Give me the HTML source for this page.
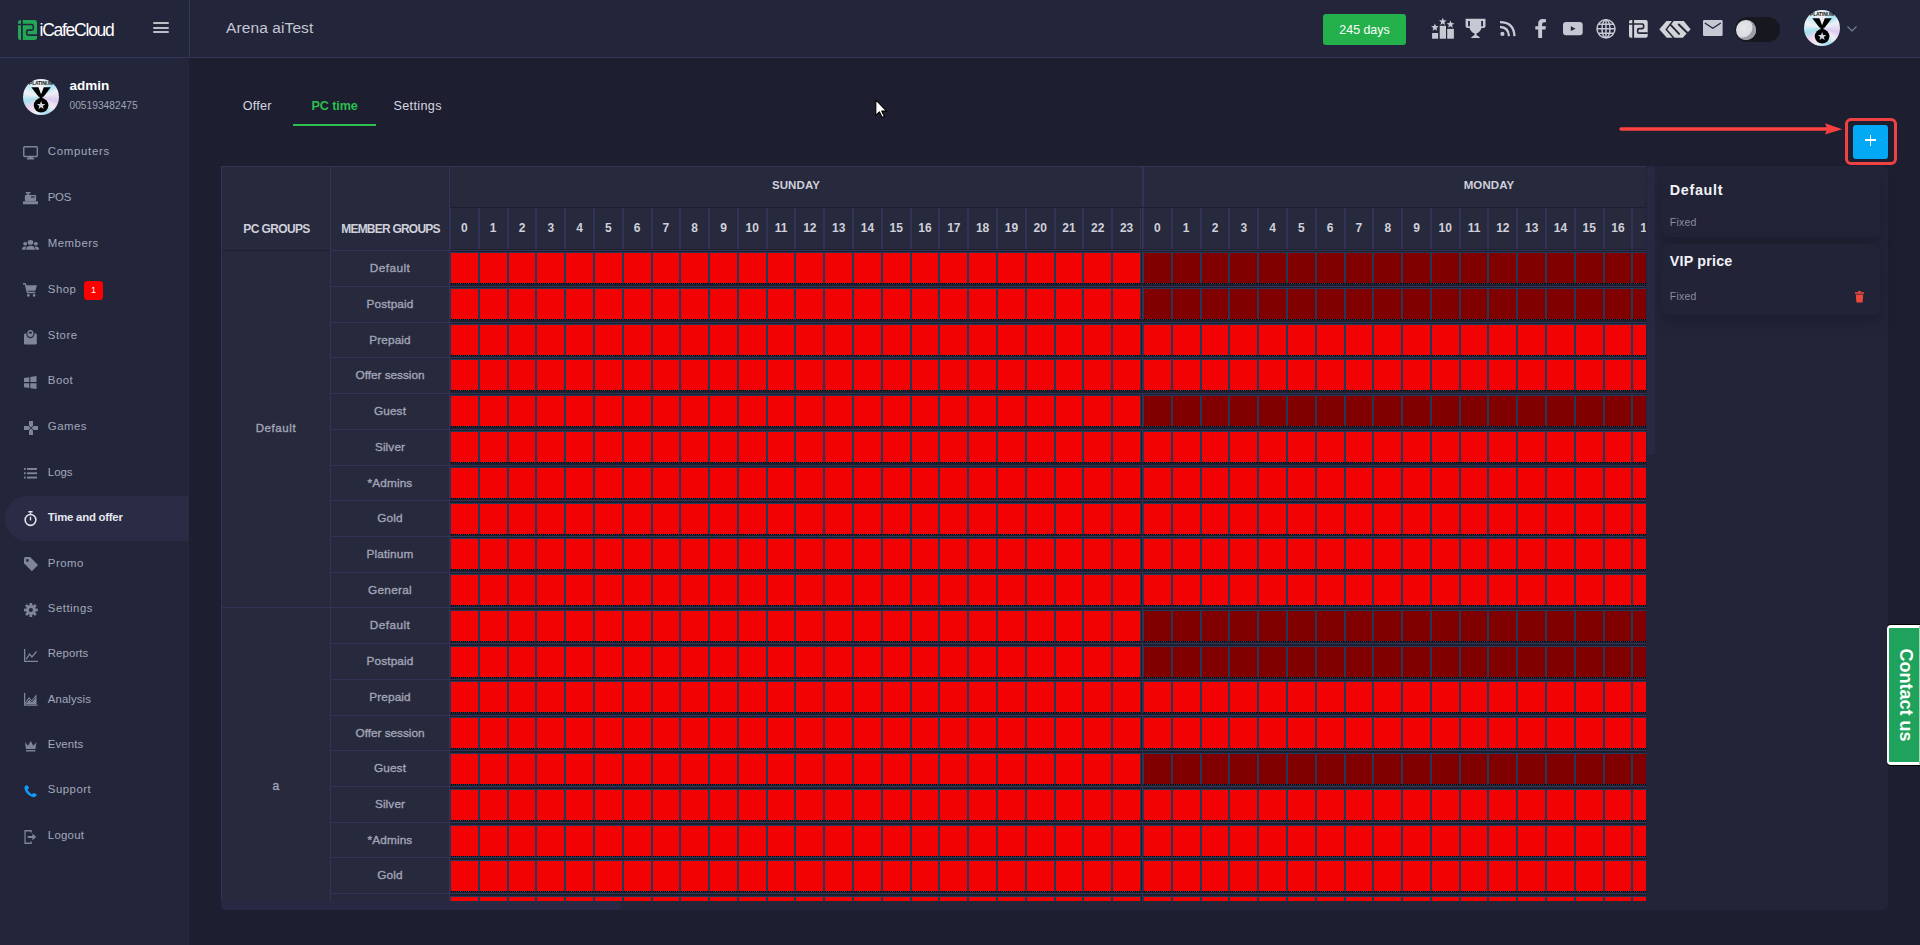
<!DOCTYPE html><html><head><meta charset="utf-8"><style>
*{margin:0;padding:0;box-sizing:border-box}
html,body{width:1920px;height:945px;overflow:hidden;background:#1d1e2f;font-family:"Liberation Sans", sans-serif}
.a{position:absolute}
.t{position:absolute;white-space:nowrap;line-height:1}
svg{position:absolute;overflow:visible}
i.r,i.d{position:absolute;display:block;height:31px;border-bottom:1px solid transparent;border-image:repeating-linear-gradient(90deg,#000 0 1px,#243858 1px 2px) 0 0 1 0/0 0 1px 0 stretch}
i.r{background:#f20202 content-box}
i.d{background:#800000 content-box}
</style></head><body>
<div class="a" style="left:0;top:0;width:189px;height:945px;background:#23263a"></div>
<div class="a" style="left:0;top:0;width:1920px;height:57px;background:#23263a"></div>
<div class="a" style="left:0;top:57px;width:1920px;height:1px;background:#33355a"></div>
<div class="a" style="left:189px;top:0;width:1px;height:57px;background:#33355a"></div>
<svg style="left:0;top:0" width="60" height="60" viewBox="0 0 60 60">
<rect x="18" y="20" width="19" height="20" rx="2.5" fill="#22a758"/>
<path d="M18 24.5H31.8Q33.3 24.5 33.3 26V28.6Q33.3 30.1 31.8 30.1H28.2Q26.7 30.1 26.7 31.6V33.6Q26.7 35.1 28.2 35.1H37" fill="none" stroke="#23263a" stroke-width="1.6"/>
<rect x="21" y="20" width="1.8" height="20" fill="#23263a"/>
</svg>
<div class="t" style="left:39.5px;top:22.25px;font-size:17.5px;color:#ffffff;font-weight:400;letter-spacing:-1.25px;">iCafeCloud</div>
<div class="a" style="left:153.3px;top:22px;width:16px;height:2px;background:#bdbdc8;border-radius:1px"></div>
<div class="a" style="left:153.3px;top:26.5px;width:16px;height:2px;background:#bdbdc8;border-radius:1px"></div>
<div class="a" style="left:153.3px;top:31px;width:16px;height:2px;background:#bdbdc8;border-radius:1px"></div>
<div class="t" style="left:226px;top:20.25px;font-size:15.5px;color:#c5c7d2;font-weight:400;letter-spacing:0.1px;">Arena aiTest</div>
<div class="a" style="left:23px;top:79px;width:36px;height:36px;border-radius:50%;background:conic-gradient(from 10deg,#eef0f6,#a6e2f0 35deg,#eef2f6 60deg,#dccaf0 95deg,#f4eef4 120deg,#9edcf0 150deg,#eaf2f6 185deg,#f0d4ee 215deg,#a4e0ee 245deg,#f2f2f6 275deg,#c8ecf4 300deg,#ecf0f6 330deg,#eef0f6)"></div>
<svg style="left:23px;top:79px" width="36" height="36" viewBox="0 0 36 36">
<text x="18" y="5.6" font-size="5" font-weight="700" text-anchor="middle" fill="#111" font-family="Liberation Sans" letter-spacing="-0.2">PLATINUM</text>
<path d="M8.3 8.3H15.4L18.1 15.2L20.8 8.3H27.8L20.6 17.8H15.6Z" fill="#000"/>
<rect x="16.6" y="16.5" width="2.9" height="3.6" fill="#000"/>
<circle cx="18.1" cy="26.3" r="7.3" fill="#000"/>
<polygon points="18.1,22.1 19.2,25.0 22.3,25.1 19.9,27.0 20.7,30.0 18.1,28.3 15.5,30.0 16.3,27.0 13.9,25.1 17.0,25.0" fill="#d4d4de"/>
</svg>
<div class="t" style="left:69.5px;top:79.35px;font-size:13.5px;color:#ffffff;font-weight:700;letter-spacing:0px;">admin</div>
<div class="t" style="left:69.5px;top:101.20px;font-size:10.2px;color:#9fa3b6;font-weight:400;letter-spacing:0.02px;">005193482475</div>
<div class="a" style="left:5px;top:496px;width:184px;height:45px;background:#2a2c46;border-radius:22px 0 0 22px"></div>
<div class="t" style="left:47.8px;top:145.70px;font-size:11.4px;color:#a3a8bc;font-weight:400;letter-spacing:0.7px;">Computers</div>
<svg style="left:22.9px;top:146.1px" width="15.10" height="13.50" viewBox="0 0 16 14" preserveAspectRatio="none"><rect x="0.8" y="0.8" width="14.4" height="10" rx="1" fill="none" stroke="#80859c" stroke-width="1.5"/><rect x="5.5" y="11" width="5" height="1.8" fill="#80859c"/><rect x="4" y="12.5" width="8" height="1.5" rx="0.7" fill="#80859c"/></svg>
<div class="t" style="left:47.8px;top:191.70px;font-size:11.4px;color:#a3a8bc;font-weight:400;letter-spacing:-0.3px;">POS</div>
<svg style="left:23px;top:191.7px" width="15.00" height="12.30" viewBox="0 0 16 12.6" preserveAspectRatio="none"><rect x="3" y="0" width="5" height="1.6" fill="#80859c"/><rect x="4.5" y="1.5" width="2" height="2" fill="#80859c"/><rect x="2" y="3.2" width="12" height="6" rx="1" fill="#80859c"/><rect x="0" y="9.6" width="16" height="3" rx="0.6" fill="#80859c"/><rect x="8.5" y="4.5" width="4" height="1.3" fill="#23263a"/></svg>
<div class="t" style="left:47.8px;top:237.70px;font-size:11.4px;color:#a3a8bc;font-weight:400;letter-spacing:0.5px;">Members</div>
<svg style="left:22.3px;top:239.8px" width="17.00" height="9.70" viewBox="0 0.4 16 10.6" preserveAspectRatio="none"><circle cx="8" cy="3" r="2.6" fill="#80859c"/><circle cx="3" cy="4.5" r="1.9" fill="#80859c"/><circle cx="13" cy="4.5" r="1.9" fill="#80859c"/><path d="M3.8 11Q4 6.6 8 6.6Q12 6.6 12.2 11Z" fill="#80859c"/><path d="M0 11Q0 7.4 3 7.4Q3.8 7.4 4.2 7.7Q3.2 9 3.2 11Z" fill="#80859c"/><path d="M16 11Q16 7.4 13 7.4Q12.2 7.4 11.8 7.7Q12.8 9 12.8 11Z" fill="#80859c"/></svg>
<div class="t" style="left:47.8px;top:283.70px;font-size:11.4px;color:#a3a8bc;font-weight:400;letter-spacing:0.5px;">Shop</div>
<svg style="left:22.9px;top:283px" width="14.00" height="13.80" viewBox="0 0 15 14" preserveAspectRatio="none"><path d="M0 0.8H2.4L4.8 9.6H13.2" fill="none" stroke="#80859c" stroke-width="1.5" stroke-linejoin="round"/><path d="M2.8 2.4H15L13.2 7.8H4.3Z" fill="#80859c"/><circle cx="5.7" cy="12.6" r="1.4" fill="#80859c"/><circle cx="11.9" cy="12.6" r="1.4" fill="#80859c"/></svg>
<div class="t" style="left:47.8px;top:329.70px;font-size:11.4px;color:#a3a8bc;font-weight:400;letter-spacing:0.5px;">Store</div>
<svg style="left:24.1px;top:329.5px" width="12.80" height="14.50" viewBox="0 0 14.5 14.5" preserveAspectRatio="none"><circle cx="7.25" cy="3.6" r="2.8" fill="none" stroke="#80859c" stroke-width="1.5"/><rect x="0" y="3.6" width="14.5" height="10.9" rx="1.2" fill="#80859c"/><path d="M3.2 3.6A4 4 0 0 0 11.3 3.6" fill="none" stroke="#23263a" stroke-width="1.3"/></svg>
<div class="t" style="left:47.8px;top:375.40px;font-size:11.4px;color:#a3a8bc;font-weight:400;letter-spacing:0.5px;">Boot</div>
<svg style="left:23.9px;top:375.9px" width="12.50" height="13.10" viewBox="0 0 13 13.4" preserveAspectRatio="none"><path d="M0 2V6.2H5.5V1.2Z" fill="#80859c"/><path d="M6.6 1V6.2H13V0Z" fill="#80859c"/><path d="M0 7.3V11.5L5.5 12.3V7.3Z" fill="#80859c"/><path d="M6.6 7.3V12.5L13 13.4V7.3Z" fill="#80859c"/></svg>
<div class="t" style="left:47.8px;top:421.00px;font-size:11.4px;color:#a3a8bc;font-weight:400;letter-spacing:0.5px;">Games</div>
<svg style="left:23.5px;top:421px" width="14.00" height="14.00" viewBox="0 0 14 14" preserveAspectRatio="none"><path d="M5 0H9V4.5L7 6.5L5 4.5Z" fill="#80859c"/><path d="M5 14H9V9.5L7 7.5L5 9.5Z" fill="#80859c"/><path d="M0 5H4.5L6.5 7L4.5 9H0Z" fill="#80859c"/><path d="M14 5H9.5L7.5 7L9.5 9H14Z" fill="#80859c"/></svg>
<div class="t" style="left:47.8px;top:466.70px;font-size:11.4px;color:#a3a8bc;font-weight:400;letter-spacing:0.0px;">Logs</div>
<svg style="left:23.7px;top:467.7px" width="13.00" height="10.50" viewBox="0 0.5 13.7 10" preserveAspectRatio="none"><rect x="0" y="0.5" width="1.8" height="1.8" fill="#80859c"/><rect x="3.2" y="0.5" width="10.5" height="1.8" fill="#80859c"/><rect x="0" y="4.6" width="1.8" height="1.8" fill="#80859c"/><rect x="3.2" y="4.6" width="10.5" height="1.8" fill="#80859c"/><rect x="0" y="8.7" width="1.8" height="1.8" fill="#80859c"/><rect x="3.2" y="8.7" width="10.5" height="1.8" fill="#80859c"/></svg>
<div class="t" style="left:47.8px;top:511.70px;font-size:11.4px;color:#e6e7ef;font-weight:700;letter-spacing:-0.25px;">Time and offer</div>
<svg style="left:24px;top:510.8px" width="13.00" height="15.20" viewBox="0 0 13.6 15.5" preserveAspectRatio="none"><circle cx="6.8" cy="9.1" r="5.6" fill="none" stroke="#e4e5ee" stroke-width="1.6"/><rect x="4.6" y="0" width="4.4" height="1.6" fill="#e4e5ee"/><rect x="6.1" y="1.5" width="1.4" height="2.2" fill="#e4e5ee"/><rect x="6.1" y="5.8" width="1.4" height="3.8" fill="#e4e5ee"/></svg>
<div class="t" style="left:47.8px;top:557.70px;font-size:11.4px;color:#a3a8bc;font-weight:400;letter-spacing:0.5px;">Promo</div>
<svg style="left:23.5px;top:556.7px" width="14.00" height="14.30" viewBox="0 0 14.2 14.2" preserveAspectRatio="none"><path d="M0 1.5V6.2L8 14.2L14.2 8L6.2 0H1.5Q0 0 0 1.5Z" fill="#80859c"/><circle cx="3.4" cy="3.4" r="1.3" fill="#23263a"/></svg>
<div class="t" style="left:47.8px;top:603.00px;font-size:11.4px;color:#a3a8bc;font-weight:400;letter-spacing:0.5px;">Settings</div>
<svg style="left:23.5px;top:603px" width="13.80" height="14.00" viewBox="-0.2 -0.2 14.4 14.4" preserveAspectRatio="none"><rect x="5.6" y="-0.2" width="2.8" height="3.4" fill="#80859c" transform="rotate(0 7 7)"/><rect x="5.6" y="-0.2" width="2.8" height="3.4" fill="#80859c" transform="rotate(45 7 7)"/><rect x="5.6" y="-0.2" width="2.8" height="3.4" fill="#80859c" transform="rotate(90 7 7)"/><rect x="5.6" y="-0.2" width="2.8" height="3.4" fill="#80859c" transform="rotate(135 7 7)"/><rect x="5.6" y="-0.2" width="2.8" height="3.4" fill="#80859c" transform="rotate(180 7 7)"/><rect x="5.6" y="-0.2" width="2.8" height="3.4" fill="#80859c" transform="rotate(225 7 7)"/><rect x="5.6" y="-0.2" width="2.8" height="3.4" fill="#80859c" transform="rotate(270 7 7)"/><rect x="5.6" y="-0.2" width="2.8" height="3.4" fill="#80859c" transform="rotate(315 7 7)"/><circle cx="7" cy="7" r="5.1" fill="#80859c"/><circle cx="7" cy="7" r="2.1" fill="#23263a"/></svg>
<div class="t" style="left:47.8px;top:648.40px;font-size:11.4px;color:#a3a8bc;font-weight:400;letter-spacing:0.1px;">Reports</div>
<svg style="left:23.5px;top:648.8px" width="14.00" height="13.00" viewBox="0 0 15 14" preserveAspectRatio="none"><path d="M0.7 0V13.3H15" fill="none" stroke="#80859c" stroke-width="1.4"/><path d="M2.5 11L6 5.5L8.5 8.5L13.5 2.5" fill="none" stroke="#80859c" stroke-width="1.4"/></svg>
<div class="t" style="left:47.8px;top:693.70px;font-size:11.4px;color:#a3a8bc;font-weight:400;letter-spacing:0.1px;">Analysis</div>
<svg style="left:23.6px;top:693.2px" width="13.60" height="12.70" viewBox="0 0 15 14" preserveAspectRatio="none"><path d="M0.7 0V13.3H15" fill="none" stroke="#80859c" stroke-width="1.4"/><path d="M1.5 12.5V10L5.5 4.5L8.5 8L13.8 1.5V12.5Z" fill="#80859c"/><path d="M2.8 10.8L5.6 6.8L8.6 10L12.4 5.2" fill="none" stroke="#23263a" stroke-width="1"/></svg>
<div class="t" style="left:47.8px;top:739.00px;font-size:11.4px;color:#a3a8bc;font-weight:400;letter-spacing:0.1px;">Events</div>
<svg style="left:24.6px;top:741.2px" width="11.40" height="10.50" viewBox="0 1 14 11.6" preserveAspectRatio="none"><path d="M0 2.5L3.8 6.2L7 1L10.2 6.2L14 2.5L12.8 9.8H1.2Z" fill="#80859c"/><rect x="1.2" y="11" width="11.6" height="1.6" fill="#80859c"/></svg>
<div class="t" style="left:47.8px;top:784.40px;font-size:11.4px;color:#a3a8bc;font-weight:400;letter-spacing:0.5px;">Support</div>
<svg style="left:23.8px;top:784.5px" width="13.00" height="12.20" viewBox="0 0 13.3 13.7" preserveAspectRatio="none"><path d="M1 1.5Q0.3 2.2 0.5 3.8Q1.5 9 6.5 12.5Q8.6 13.9 10.5 13.6Q11.5 13.4 12.2 12.6L13 11.6Q13.3 11 12.7 10.5L10.8 9.2Q10.1 8.8 9.5 9.3L8.6 10.2Q8.1 10.5 7.5 10.1Q5 8.3 3.8 5.6Q3.5 5 4 4.6L4.8 3.8Q5.3 3.3 4.9 2.6L3.6 0.7Q3.1 0.1 2.4 0.4Z" fill="#159bf5"/></svg>
<div class="t" style="left:47.8px;top:829.70px;font-size:11.4px;color:#a3a8bc;font-weight:400;letter-spacing:0.25px;">Logout</div>
<svg style="left:24.1px;top:829.5px" width="12.20" height="14.00" viewBox="0 0.45 14.5 14.8" preserveAspectRatio="none"><path d="M8.5 3V1.2H1.2V14.5H8.5V12.5" fill="none" stroke="#80859c" stroke-width="1.5"/><path d="M4.5 6.8H10V4.2L14.5 7.8L10 11.4V8.8H4.5Z" fill="#80859c"/></svg>
<div class="a" style="left:84px;top:281px;width:19px;height:19px;background:#ff0000;border-radius:3.5px"></div>
<div class="t" style="left:84.0px;width:19px;text-align:center;top:286.00px;font-size:9px;color:#ffffff;font-weight:400;letter-spacing:0px;">1</div>
<div class="t" style="left:242.8px;top:99.70px;font-size:12.6px;color:#d6d7e0;font-weight:400;letter-spacing:0.2px;">Offer</div>
<div class="t" style="left:311.5px;top:99.70px;font-size:12.6px;color:#2bbf4e;font-weight:700;letter-spacing:-0.1px;">PC time</div>
<div class="t" style="left:393.5px;top:99.70px;font-size:12.6px;color:#d6d7e0;font-weight:400;letter-spacing:0.35px;">Settings</div>
<div class="a" style="left:293px;top:124.4px;width:83px;height:2px;background:#2bbf4e"></div>
<div class="a" style="left:221px;top:166px;width:1667px;height:744px;background:#232438;border-radius:0 5px 5px 5px"></div>
<div class="a" style="left:221px;top:166px;width:1425px;height:735px;background:#27293d;overflow:hidden">
<div class="a" style="left:0px;top:0px;width:1425px;height:1px;background:#323357;"></div>
<div class="a" style="left:0px;top:0px;width:1px;height:735px;background:#323357;"></div>
<div class="a" style="left:109px;top:0px;width:1px;height:735px;background:#323357;"></div>
<div class="a" style="left:228px;top:0px;width:1px;height:735px;background:#323357;"></div>
<div class="a" style="left:229px;top:42px;width:1px;height:42px;background:#323357;"></div>
<div class="a" style="left:921px;top:0px;width:2px;height:42px;background:#323357;"></div>
<div class="a" style="left:921px;top:42px;width:1px;height:42px;background:#323357;"></div>
<div class="a" style="left:229px;top:41px;width:1196px;height:1px;background:#1e1f2e;"></div>
<div class="a" style="left:229px;top:83px;width:1196px;height:1px;background:#1e1f2e;"></div>
<div class="a" style="left:229px;top:42px;width:1px;height:41px;background:#323357;"></div>
<div class="a" style="left:257px;top:42px;width:1px;height:41px;background:#323357;"></div>
<div class="a" style="left:258px;top:42px;width:1px;height:41px;background:#323357;"></div>
<div class="a" style="left:286px;top:42px;width:1px;height:41px;background:#323357;"></div>
<div class="a" style="left:287px;top:42px;width:1px;height:41px;background:#323357;"></div>
<div class="a" style="left:314px;top:42px;width:1px;height:41px;background:#323357;"></div>
<div class="a" style="left:315px;top:42px;width:1px;height:41px;background:#323357;"></div>
<div class="a" style="left:343px;top:42px;width:1px;height:41px;background:#323357;"></div>
<div class="a" style="left:344px;top:42px;width:1px;height:41px;background:#323357;"></div>
<div class="a" style="left:372px;top:42px;width:1px;height:41px;background:#323357;"></div>
<div class="a" style="left:373px;top:42px;width:1px;height:41px;background:#323357;"></div>
<div class="a" style="left:401px;top:42px;width:1px;height:41px;background:#323357;"></div>
<div class="a" style="left:402px;top:42px;width:1px;height:41px;background:#323357;"></div>
<div class="a" style="left:430px;top:42px;width:1px;height:41px;background:#323357;"></div>
<div class="a" style="left:431px;top:42px;width:1px;height:41px;background:#323357;"></div>
<div class="a" style="left:458px;top:42px;width:1px;height:41px;background:#323357;"></div>
<div class="a" style="left:459px;top:42px;width:1px;height:41px;background:#323357;"></div>
<div class="a" style="left:487px;top:42px;width:1px;height:41px;background:#323357;"></div>
<div class="a" style="left:488px;top:42px;width:1px;height:41px;background:#323357;"></div>
<div class="a" style="left:516px;top:42px;width:1px;height:41px;background:#323357;"></div>
<div class="a" style="left:517px;top:42px;width:1px;height:41px;background:#323357;"></div>
<div class="a" style="left:545px;top:42px;width:1px;height:41px;background:#323357;"></div>
<div class="a" style="left:546px;top:42px;width:1px;height:41px;background:#323357;"></div>
<div class="a" style="left:573px;top:42px;width:1px;height:41px;background:#323357;"></div>
<div class="a" style="left:574px;top:42px;width:1px;height:41px;background:#323357;"></div>
<div class="a" style="left:602px;top:42px;width:1px;height:41px;background:#323357;"></div>
<div class="a" style="left:603px;top:42px;width:1px;height:41px;background:#323357;"></div>
<div class="a" style="left:631px;top:42px;width:1px;height:41px;background:#323357;"></div>
<div class="a" style="left:632px;top:42px;width:1px;height:41px;background:#323357;"></div>
<div class="a" style="left:660px;top:42px;width:1px;height:41px;background:#323357;"></div>
<div class="a" style="left:661px;top:42px;width:1px;height:41px;background:#323357;"></div>
<div class="a" style="left:689px;top:42px;width:1px;height:41px;background:#323357;"></div>
<div class="a" style="left:690px;top:42px;width:1px;height:41px;background:#323357;"></div>
<div class="a" style="left:717px;top:42px;width:1px;height:41px;background:#323357;"></div>
<div class="a" style="left:718px;top:42px;width:1px;height:41px;background:#323357;"></div>
<div class="a" style="left:746px;top:42px;width:1px;height:41px;background:#323357;"></div>
<div class="a" style="left:747px;top:42px;width:1px;height:41px;background:#323357;"></div>
<div class="a" style="left:775px;top:42px;width:1px;height:41px;background:#323357;"></div>
<div class="a" style="left:776px;top:42px;width:1px;height:41px;background:#323357;"></div>
<div class="a" style="left:804px;top:42px;width:1px;height:41px;background:#323357;"></div>
<div class="a" style="left:805px;top:42px;width:1px;height:41px;background:#323357;"></div>
<div class="a" style="left:833px;top:42px;width:1px;height:41px;background:#323357;"></div>
<div class="a" style="left:834px;top:42px;width:1px;height:41px;background:#323357;"></div>
<div class="a" style="left:861px;top:42px;width:1px;height:41px;background:#323357;"></div>
<div class="a" style="left:862px;top:42px;width:1px;height:41px;background:#323357;"></div>
<div class="a" style="left:890px;top:42px;width:1px;height:41px;background:#323357;"></div>
<div class="a" style="left:891px;top:42px;width:1px;height:41px;background:#323357;"></div>
<div class="a" style="left:919px;top:42px;width:1px;height:41px;background:#323357;"></div>
<div class="a" style="left:922px;top:42px;width:1px;height:41px;background:#323357;"></div>
<div class="a" style="left:950px;top:42px;width:1px;height:41px;background:#323357;"></div>
<div class="a" style="left:951px;top:42px;width:1px;height:41px;background:#323357;"></div>
<div class="a" style="left:979px;top:42px;width:1px;height:41px;background:#323357;"></div>
<div class="a" style="left:980px;top:42px;width:1px;height:41px;background:#323357;"></div>
<div class="a" style="left:1007px;top:42px;width:1px;height:41px;background:#323357;"></div>
<div class="a" style="left:1008px;top:42px;width:1px;height:41px;background:#323357;"></div>
<div class="a" style="left:1036px;top:42px;width:1px;height:41px;background:#323357;"></div>
<div class="a" style="left:1037px;top:42px;width:1px;height:41px;background:#323357;"></div>
<div class="a" style="left:1065px;top:42px;width:1px;height:41px;background:#323357;"></div>
<div class="a" style="left:1066px;top:42px;width:1px;height:41px;background:#323357;"></div>
<div class="a" style="left:1094px;top:42px;width:1px;height:41px;background:#323357;"></div>
<div class="a" style="left:1095px;top:42px;width:1px;height:41px;background:#323357;"></div>
<div class="a" style="left:1123px;top:42px;width:1px;height:41px;background:#323357;"></div>
<div class="a" style="left:1124px;top:42px;width:1px;height:41px;background:#323357;"></div>
<div class="a" style="left:1151px;top:42px;width:1px;height:41px;background:#323357;"></div>
<div class="a" style="left:1152px;top:42px;width:1px;height:41px;background:#323357;"></div>
<div class="a" style="left:1180px;top:42px;width:1px;height:41px;background:#323357;"></div>
<div class="a" style="left:1181px;top:42px;width:1px;height:41px;background:#323357;"></div>
<div class="a" style="left:1209px;top:42px;width:1px;height:41px;background:#323357;"></div>
<div class="a" style="left:1210px;top:42px;width:1px;height:41px;background:#323357;"></div>
<div class="a" style="left:1238px;top:42px;width:1px;height:41px;background:#323357;"></div>
<div class="a" style="left:1239px;top:42px;width:1px;height:41px;background:#323357;"></div>
<div class="a" style="left:1266px;top:42px;width:1px;height:41px;background:#323357;"></div>
<div class="a" style="left:1267px;top:42px;width:1px;height:41px;background:#323357;"></div>
<div class="a" style="left:1295px;top:42px;width:1px;height:41px;background:#323357;"></div>
<div class="a" style="left:1296px;top:42px;width:1px;height:41px;background:#323357;"></div>
<div class="a" style="left:1324px;top:42px;width:1px;height:41px;background:#323357;"></div>
<div class="a" style="left:1325px;top:42px;width:1px;height:41px;background:#323357;"></div>
<div class="a" style="left:1353px;top:42px;width:1px;height:41px;background:#323357;"></div>
<div class="a" style="left:1354px;top:42px;width:1px;height:41px;background:#323357;"></div>
<div class="a" style="left:1382px;top:42px;width:1px;height:41px;background:#323357;"></div>
<div class="a" style="left:1383px;top:42px;width:1px;height:41px;background:#323357;"></div>
<div class="a" style="left:1410px;top:42px;width:1px;height:41px;background:#323357;"></div>
<div class="a" style="left:1411px;top:42px;width:1px;height:41px;background:#323357;"></div>
<div class="a" style="left:1px;top:84px;width:108px;height:1px;background:#1e1f2e;"></div>
<div class="a" style="left:110px;top:84px;width:118px;height:1px;background:#323357;"></div>
<div class="a" style="left:229px;top:84px;width:1196px;height:1px;background:#323357;"></div>
<div class="a" style="left:229px;top:85px;width:1196px;height:1px;background:#1e1f2e;"></div>
<div class="a" style="left:229px;top:86px;width:691px;height:31px;background:#243858;"></div>
<div class="a" style="left:922px;top:86px;width:503px;height:31px;background:#243858;"></div>
<div class="a" style="left:920px;top:85px;width:1px;height:35px;background:#1e1f2e;"></div>
<div class="a" style="left:921px;top:85px;width:1px;height:35px;background:#323357;"></div>
<div class="a" style="left:229px;top:117px;width:1196px;height:1px;background:#222436;"></div>
<div class="a" style="left:229px;top:118px;width:1196px;height:2px;background:#1e1f2e;"></div>
<i class="r" style="left:230px;top:87px;width:27px"></i>
<i class="r" style="left:259px;top:87px;width:27px"></i>
<i class="r" style="left:288px;top:87px;width:26px"></i>
<i class="r" style="left:316px;top:87px;width:27px"></i>
<i class="r" style="left:345px;top:87px;width:27px"></i>
<i class="r" style="left:374px;top:87px;width:27px"></i>
<i class="r" style="left:403px;top:87px;width:27px"></i>
<i class="r" style="left:432px;top:87px;width:26px"></i>
<i class="r" style="left:460px;top:87px;width:27px"></i>
<i class="r" style="left:489px;top:87px;width:27px"></i>
<i class="r" style="left:518px;top:87px;width:27px"></i>
<i class="r" style="left:547px;top:87px;width:26px"></i>
<i class="r" style="left:575px;top:87px;width:27px"></i>
<i class="r" style="left:604px;top:87px;width:27px"></i>
<i class="r" style="left:633px;top:87px;width:27px"></i>
<i class="r" style="left:662px;top:87px;width:27px"></i>
<i class="r" style="left:691px;top:87px;width:26px"></i>
<i class="r" style="left:719px;top:87px;width:27px"></i>
<i class="r" style="left:748px;top:87px;width:27px"></i>
<i class="r" style="left:777px;top:87px;width:27px"></i>
<i class="r" style="left:806px;top:87px;width:27px"></i>
<i class="r" style="left:835px;top:87px;width:26px"></i>
<i class="r" style="left:863px;top:87px;width:27px"></i>
<i class="r" style="left:892px;top:87px;width:27px"></i>
<i class="d" style="left:923px;top:87px;width:27px"></i>
<i class="d" style="left:952px;top:87px;width:27px"></i>
<i class="d" style="left:981px;top:87px;width:26px"></i>
<i class="d" style="left:1009px;top:87px;width:27px"></i>
<i class="d" style="left:1038px;top:87px;width:27px"></i>
<i class="d" style="left:1067px;top:87px;width:27px"></i>
<i class="d" style="left:1096px;top:87px;width:27px"></i>
<i class="d" style="left:1125px;top:87px;width:26px"></i>
<i class="d" style="left:1153px;top:87px;width:27px"></i>
<i class="d" style="left:1182px;top:87px;width:27px"></i>
<i class="d" style="left:1211px;top:87px;width:27px"></i>
<i class="d" style="left:1240px;top:87px;width:26px"></i>
<i class="d" style="left:1268px;top:87px;width:27px"></i>
<i class="d" style="left:1297px;top:87px;width:27px"></i>
<i class="d" style="left:1326px;top:87px;width:27px"></i>
<i class="d" style="left:1355px;top:87px;width:27px"></i>
<i class="d" style="left:1384px;top:87px;width:26px"></i>
<i class="d" style="left:1412px;top:87px;width:13px"></i>
<div class="t" style="left:110px;width:118px;text-align:center;top:97.00px;font-size:11.8px;color:#a2a4b6;font-weight:400;-webkit-text-stroke:0.35px #a2a4b6;letter-spacing:0.45px">Default</div>
<div class="a" style="left:110px;top:120px;width:118px;height:1px;background:#323357;"></div>
<div class="a" style="left:229px;top:120px;width:1196px;height:1px;background:#323357;"></div>
<div class="a" style="left:229px;top:121px;width:1196px;height:1px;background:#1e1f2e;"></div>
<div class="a" style="left:229px;top:122px;width:691px;height:31px;background:#243858;"></div>
<div class="a" style="left:922px;top:122px;width:503px;height:31px;background:#243858;"></div>
<div class="a" style="left:920px;top:121px;width:1px;height:35px;background:#1e1f2e;"></div>
<div class="a" style="left:921px;top:121px;width:1px;height:35px;background:#323357;"></div>
<div class="a" style="left:229px;top:153px;width:1196px;height:1px;background:#222436;"></div>
<div class="a" style="left:229px;top:154px;width:1196px;height:2px;background:#1e1f2e;"></div>
<i class="r" style="left:230px;top:123px;width:27px"></i>
<i class="r" style="left:259px;top:123px;width:27px"></i>
<i class="r" style="left:288px;top:123px;width:26px"></i>
<i class="r" style="left:316px;top:123px;width:27px"></i>
<i class="r" style="left:345px;top:123px;width:27px"></i>
<i class="r" style="left:374px;top:123px;width:27px"></i>
<i class="r" style="left:403px;top:123px;width:27px"></i>
<i class="r" style="left:432px;top:123px;width:26px"></i>
<i class="r" style="left:460px;top:123px;width:27px"></i>
<i class="r" style="left:489px;top:123px;width:27px"></i>
<i class="r" style="left:518px;top:123px;width:27px"></i>
<i class="r" style="left:547px;top:123px;width:26px"></i>
<i class="r" style="left:575px;top:123px;width:27px"></i>
<i class="r" style="left:604px;top:123px;width:27px"></i>
<i class="r" style="left:633px;top:123px;width:27px"></i>
<i class="r" style="left:662px;top:123px;width:27px"></i>
<i class="r" style="left:691px;top:123px;width:26px"></i>
<i class="r" style="left:719px;top:123px;width:27px"></i>
<i class="r" style="left:748px;top:123px;width:27px"></i>
<i class="r" style="left:777px;top:123px;width:27px"></i>
<i class="r" style="left:806px;top:123px;width:27px"></i>
<i class="r" style="left:835px;top:123px;width:26px"></i>
<i class="r" style="left:863px;top:123px;width:27px"></i>
<i class="r" style="left:892px;top:123px;width:27px"></i>
<i class="d" style="left:923px;top:123px;width:27px"></i>
<i class="d" style="left:952px;top:123px;width:27px"></i>
<i class="d" style="left:981px;top:123px;width:26px"></i>
<i class="d" style="left:1009px;top:123px;width:27px"></i>
<i class="d" style="left:1038px;top:123px;width:27px"></i>
<i class="d" style="left:1067px;top:123px;width:27px"></i>
<i class="d" style="left:1096px;top:123px;width:27px"></i>
<i class="d" style="left:1125px;top:123px;width:26px"></i>
<i class="d" style="left:1153px;top:123px;width:27px"></i>
<i class="d" style="left:1182px;top:123px;width:27px"></i>
<i class="d" style="left:1211px;top:123px;width:27px"></i>
<i class="d" style="left:1240px;top:123px;width:26px"></i>
<i class="d" style="left:1268px;top:123px;width:27px"></i>
<i class="d" style="left:1297px;top:123px;width:27px"></i>
<i class="d" style="left:1326px;top:123px;width:27px"></i>
<i class="d" style="left:1355px;top:123px;width:27px"></i>
<i class="d" style="left:1384px;top:123px;width:26px"></i>
<i class="d" style="left:1412px;top:123px;width:13px"></i>
<div class="t" style="left:110px;width:118px;text-align:center;top:133.00px;font-size:11.8px;color:#a2a4b6;font-weight:400;-webkit-text-stroke:0.35px #a2a4b6;letter-spacing:0.12px">Postpaid</div>
<div class="a" style="left:110px;top:156px;width:118px;height:1px;background:#323357;"></div>
<div class="a" style="left:229px;top:156px;width:1196px;height:1px;background:#323357;"></div>
<div class="a" style="left:229px;top:157px;width:1196px;height:1px;background:#1e1f2e;"></div>
<div class="a" style="left:229px;top:158px;width:691px;height:31px;background:#243858;"></div>
<div class="a" style="left:922px;top:158px;width:503px;height:31px;background:#243858;"></div>
<div class="a" style="left:920px;top:157px;width:1px;height:34px;background:#1e1f2e;"></div>
<div class="a" style="left:921px;top:157px;width:1px;height:34px;background:#323357;"></div>
<div class="a" style="left:229px;top:189px;width:1196px;height:1px;background:#222436;"></div>
<div class="a" style="left:229px;top:190px;width:1196px;height:1px;background:#1e1f2e;"></div>
<i class="r" style="left:230px;top:159px;width:27px"></i>
<i class="r" style="left:259px;top:159px;width:27px"></i>
<i class="r" style="left:288px;top:159px;width:26px"></i>
<i class="r" style="left:316px;top:159px;width:27px"></i>
<i class="r" style="left:345px;top:159px;width:27px"></i>
<i class="r" style="left:374px;top:159px;width:27px"></i>
<i class="r" style="left:403px;top:159px;width:27px"></i>
<i class="r" style="left:432px;top:159px;width:26px"></i>
<i class="r" style="left:460px;top:159px;width:27px"></i>
<i class="r" style="left:489px;top:159px;width:27px"></i>
<i class="r" style="left:518px;top:159px;width:27px"></i>
<i class="r" style="left:547px;top:159px;width:26px"></i>
<i class="r" style="left:575px;top:159px;width:27px"></i>
<i class="r" style="left:604px;top:159px;width:27px"></i>
<i class="r" style="left:633px;top:159px;width:27px"></i>
<i class="r" style="left:662px;top:159px;width:27px"></i>
<i class="r" style="left:691px;top:159px;width:26px"></i>
<i class="r" style="left:719px;top:159px;width:27px"></i>
<i class="r" style="left:748px;top:159px;width:27px"></i>
<i class="r" style="left:777px;top:159px;width:27px"></i>
<i class="r" style="left:806px;top:159px;width:27px"></i>
<i class="r" style="left:835px;top:159px;width:26px"></i>
<i class="r" style="left:863px;top:159px;width:27px"></i>
<i class="r" style="left:892px;top:159px;width:27px"></i>
<i class="r" style="left:923px;top:159px;width:27px"></i>
<i class="r" style="left:952px;top:159px;width:27px"></i>
<i class="r" style="left:981px;top:159px;width:26px"></i>
<i class="r" style="left:1009px;top:159px;width:27px"></i>
<i class="r" style="left:1038px;top:159px;width:27px"></i>
<i class="r" style="left:1067px;top:159px;width:27px"></i>
<i class="r" style="left:1096px;top:159px;width:27px"></i>
<i class="r" style="left:1125px;top:159px;width:26px"></i>
<i class="r" style="left:1153px;top:159px;width:27px"></i>
<i class="r" style="left:1182px;top:159px;width:27px"></i>
<i class="r" style="left:1211px;top:159px;width:27px"></i>
<i class="r" style="left:1240px;top:159px;width:26px"></i>
<i class="r" style="left:1268px;top:159px;width:27px"></i>
<i class="r" style="left:1297px;top:159px;width:27px"></i>
<i class="r" style="left:1326px;top:159px;width:27px"></i>
<i class="r" style="left:1355px;top:159px;width:27px"></i>
<i class="r" style="left:1384px;top:159px;width:26px"></i>
<i class="r" style="left:1412px;top:159px;width:13px"></i>
<div class="t" style="left:110px;width:118px;text-align:center;top:169.00px;font-size:11.8px;color:#a2a4b6;font-weight:400;-webkit-text-stroke:0.35px #a2a4b6;letter-spacing:0.12px">Prepaid</div>
<div class="a" style="left:110px;top:191px;width:118px;height:1px;background:#323357;"></div>
<div class="a" style="left:229px;top:191px;width:1196px;height:1px;background:#323357;"></div>
<div class="a" style="left:229px;top:192px;width:1196px;height:1px;background:#1e1f2e;"></div>
<div class="a" style="left:229px;top:193px;width:691px;height:31px;background:#243858;"></div>
<div class="a" style="left:922px;top:193px;width:503px;height:31px;background:#243858;"></div>
<div class="a" style="left:920px;top:192px;width:1px;height:35px;background:#1e1f2e;"></div>
<div class="a" style="left:921px;top:192px;width:1px;height:35px;background:#323357;"></div>
<div class="a" style="left:229px;top:224px;width:1196px;height:1px;background:#222436;"></div>
<div class="a" style="left:229px;top:225px;width:1196px;height:2px;background:#1e1f2e;"></div>
<i class="r" style="left:230px;top:194px;width:27px"></i>
<i class="r" style="left:259px;top:194px;width:27px"></i>
<i class="r" style="left:288px;top:194px;width:26px"></i>
<i class="r" style="left:316px;top:194px;width:27px"></i>
<i class="r" style="left:345px;top:194px;width:27px"></i>
<i class="r" style="left:374px;top:194px;width:27px"></i>
<i class="r" style="left:403px;top:194px;width:27px"></i>
<i class="r" style="left:432px;top:194px;width:26px"></i>
<i class="r" style="left:460px;top:194px;width:27px"></i>
<i class="r" style="left:489px;top:194px;width:27px"></i>
<i class="r" style="left:518px;top:194px;width:27px"></i>
<i class="r" style="left:547px;top:194px;width:26px"></i>
<i class="r" style="left:575px;top:194px;width:27px"></i>
<i class="r" style="left:604px;top:194px;width:27px"></i>
<i class="r" style="left:633px;top:194px;width:27px"></i>
<i class="r" style="left:662px;top:194px;width:27px"></i>
<i class="r" style="left:691px;top:194px;width:26px"></i>
<i class="r" style="left:719px;top:194px;width:27px"></i>
<i class="r" style="left:748px;top:194px;width:27px"></i>
<i class="r" style="left:777px;top:194px;width:27px"></i>
<i class="r" style="left:806px;top:194px;width:27px"></i>
<i class="r" style="left:835px;top:194px;width:26px"></i>
<i class="r" style="left:863px;top:194px;width:27px"></i>
<i class="r" style="left:892px;top:194px;width:27px"></i>
<i class="r" style="left:923px;top:194px;width:27px"></i>
<i class="r" style="left:952px;top:194px;width:27px"></i>
<i class="r" style="left:981px;top:194px;width:26px"></i>
<i class="r" style="left:1009px;top:194px;width:27px"></i>
<i class="r" style="left:1038px;top:194px;width:27px"></i>
<i class="r" style="left:1067px;top:194px;width:27px"></i>
<i class="r" style="left:1096px;top:194px;width:27px"></i>
<i class="r" style="left:1125px;top:194px;width:26px"></i>
<i class="r" style="left:1153px;top:194px;width:27px"></i>
<i class="r" style="left:1182px;top:194px;width:27px"></i>
<i class="r" style="left:1211px;top:194px;width:27px"></i>
<i class="r" style="left:1240px;top:194px;width:26px"></i>
<i class="r" style="left:1268px;top:194px;width:27px"></i>
<i class="r" style="left:1297px;top:194px;width:27px"></i>
<i class="r" style="left:1326px;top:194px;width:27px"></i>
<i class="r" style="left:1355px;top:194px;width:27px"></i>
<i class="r" style="left:1384px;top:194px;width:26px"></i>
<i class="r" style="left:1412px;top:194px;width:13px"></i>
<div class="t" style="left:110px;width:118px;text-align:center;top:204.00px;font-size:11.8px;color:#a2a4b6;font-weight:400;-webkit-text-stroke:0.35px #a2a4b6;letter-spacing:-0.02px">Offer session</div>
<div class="a" style="left:110px;top:227px;width:118px;height:1px;background:#323357;"></div>
<div class="a" style="left:229px;top:227px;width:1196px;height:1px;background:#323357;"></div>
<div class="a" style="left:229px;top:228px;width:1196px;height:1px;background:#1e1f2e;"></div>
<div class="a" style="left:229px;top:229px;width:691px;height:31px;background:#243858;"></div>
<div class="a" style="left:922px;top:229px;width:503px;height:31px;background:#243858;"></div>
<div class="a" style="left:920px;top:228px;width:1px;height:35px;background:#1e1f2e;"></div>
<div class="a" style="left:921px;top:228px;width:1px;height:35px;background:#323357;"></div>
<div class="a" style="left:229px;top:260px;width:1196px;height:1px;background:#222436;"></div>
<div class="a" style="left:229px;top:261px;width:1196px;height:2px;background:#1e1f2e;"></div>
<i class="r" style="left:230px;top:230px;width:27px"></i>
<i class="r" style="left:259px;top:230px;width:27px"></i>
<i class="r" style="left:288px;top:230px;width:26px"></i>
<i class="r" style="left:316px;top:230px;width:27px"></i>
<i class="r" style="left:345px;top:230px;width:27px"></i>
<i class="r" style="left:374px;top:230px;width:27px"></i>
<i class="r" style="left:403px;top:230px;width:27px"></i>
<i class="r" style="left:432px;top:230px;width:26px"></i>
<i class="r" style="left:460px;top:230px;width:27px"></i>
<i class="r" style="left:489px;top:230px;width:27px"></i>
<i class="r" style="left:518px;top:230px;width:27px"></i>
<i class="r" style="left:547px;top:230px;width:26px"></i>
<i class="r" style="left:575px;top:230px;width:27px"></i>
<i class="r" style="left:604px;top:230px;width:27px"></i>
<i class="r" style="left:633px;top:230px;width:27px"></i>
<i class="r" style="left:662px;top:230px;width:27px"></i>
<i class="r" style="left:691px;top:230px;width:26px"></i>
<i class="r" style="left:719px;top:230px;width:27px"></i>
<i class="r" style="left:748px;top:230px;width:27px"></i>
<i class="r" style="left:777px;top:230px;width:27px"></i>
<i class="r" style="left:806px;top:230px;width:27px"></i>
<i class="r" style="left:835px;top:230px;width:26px"></i>
<i class="r" style="left:863px;top:230px;width:27px"></i>
<i class="r" style="left:892px;top:230px;width:27px"></i>
<i class="d" style="left:923px;top:230px;width:27px"></i>
<i class="d" style="left:952px;top:230px;width:27px"></i>
<i class="d" style="left:981px;top:230px;width:26px"></i>
<i class="d" style="left:1009px;top:230px;width:27px"></i>
<i class="d" style="left:1038px;top:230px;width:27px"></i>
<i class="d" style="left:1067px;top:230px;width:27px"></i>
<i class="d" style="left:1096px;top:230px;width:27px"></i>
<i class="d" style="left:1125px;top:230px;width:26px"></i>
<i class="d" style="left:1153px;top:230px;width:27px"></i>
<i class="d" style="left:1182px;top:230px;width:27px"></i>
<i class="d" style="left:1211px;top:230px;width:27px"></i>
<i class="d" style="left:1240px;top:230px;width:26px"></i>
<i class="d" style="left:1268px;top:230px;width:27px"></i>
<i class="d" style="left:1297px;top:230px;width:27px"></i>
<i class="d" style="left:1326px;top:230px;width:27px"></i>
<i class="d" style="left:1355px;top:230px;width:27px"></i>
<i class="d" style="left:1384px;top:230px;width:26px"></i>
<i class="d" style="left:1412px;top:230px;width:13px"></i>
<div class="t" style="left:110px;width:118px;text-align:center;top:240.00px;font-size:11.8px;color:#a2a4b6;font-weight:400;-webkit-text-stroke:0.35px #a2a4b6;letter-spacing:0.12px">Guest</div>
<div class="a" style="left:110px;top:263px;width:118px;height:1px;background:#323357;"></div>
<div class="a" style="left:229px;top:263px;width:1196px;height:1px;background:#323357;"></div>
<div class="a" style="left:229px;top:264px;width:1196px;height:1px;background:#1e1f2e;"></div>
<div class="a" style="left:229px;top:265px;width:691px;height:31px;background:#243858;"></div>
<div class="a" style="left:922px;top:265px;width:503px;height:31px;background:#243858;"></div>
<div class="a" style="left:920px;top:264px;width:1px;height:35px;background:#1e1f2e;"></div>
<div class="a" style="left:921px;top:264px;width:1px;height:35px;background:#323357;"></div>
<div class="a" style="left:229px;top:296px;width:1196px;height:1px;background:#222436;"></div>
<div class="a" style="left:229px;top:297px;width:1196px;height:2px;background:#1e1f2e;"></div>
<i class="r" style="left:230px;top:266px;width:27px"></i>
<i class="r" style="left:259px;top:266px;width:27px"></i>
<i class="r" style="left:288px;top:266px;width:26px"></i>
<i class="r" style="left:316px;top:266px;width:27px"></i>
<i class="r" style="left:345px;top:266px;width:27px"></i>
<i class="r" style="left:374px;top:266px;width:27px"></i>
<i class="r" style="left:403px;top:266px;width:27px"></i>
<i class="r" style="left:432px;top:266px;width:26px"></i>
<i class="r" style="left:460px;top:266px;width:27px"></i>
<i class="r" style="left:489px;top:266px;width:27px"></i>
<i class="r" style="left:518px;top:266px;width:27px"></i>
<i class="r" style="left:547px;top:266px;width:26px"></i>
<i class="r" style="left:575px;top:266px;width:27px"></i>
<i class="r" style="left:604px;top:266px;width:27px"></i>
<i class="r" style="left:633px;top:266px;width:27px"></i>
<i class="r" style="left:662px;top:266px;width:27px"></i>
<i class="r" style="left:691px;top:266px;width:26px"></i>
<i class="r" style="left:719px;top:266px;width:27px"></i>
<i class="r" style="left:748px;top:266px;width:27px"></i>
<i class="r" style="left:777px;top:266px;width:27px"></i>
<i class="r" style="left:806px;top:266px;width:27px"></i>
<i class="r" style="left:835px;top:266px;width:26px"></i>
<i class="r" style="left:863px;top:266px;width:27px"></i>
<i class="r" style="left:892px;top:266px;width:27px"></i>
<i class="r" style="left:923px;top:266px;width:27px"></i>
<i class="r" style="left:952px;top:266px;width:27px"></i>
<i class="r" style="left:981px;top:266px;width:26px"></i>
<i class="r" style="left:1009px;top:266px;width:27px"></i>
<i class="r" style="left:1038px;top:266px;width:27px"></i>
<i class="r" style="left:1067px;top:266px;width:27px"></i>
<i class="r" style="left:1096px;top:266px;width:27px"></i>
<i class="r" style="left:1125px;top:266px;width:26px"></i>
<i class="r" style="left:1153px;top:266px;width:27px"></i>
<i class="r" style="left:1182px;top:266px;width:27px"></i>
<i class="r" style="left:1211px;top:266px;width:27px"></i>
<i class="r" style="left:1240px;top:266px;width:26px"></i>
<i class="r" style="left:1268px;top:266px;width:27px"></i>
<i class="r" style="left:1297px;top:266px;width:27px"></i>
<i class="r" style="left:1326px;top:266px;width:27px"></i>
<i class="r" style="left:1355px;top:266px;width:27px"></i>
<i class="r" style="left:1384px;top:266px;width:26px"></i>
<i class="r" style="left:1412px;top:266px;width:13px"></i>
<div class="t" style="left:110px;width:118px;text-align:center;top:276.00px;font-size:11.8px;color:#a2a4b6;font-weight:400;-webkit-text-stroke:0.35px #a2a4b6;letter-spacing:0.12px">Silver</div>
<div class="a" style="left:110px;top:299px;width:118px;height:1px;background:#323357;"></div>
<div class="a" style="left:229px;top:299px;width:1196px;height:1px;background:#323357;"></div>
<div class="a" style="left:229px;top:300px;width:1196px;height:1px;background:#1e1f2e;"></div>
<div class="a" style="left:229px;top:301px;width:691px;height:31px;background:#243858;"></div>
<div class="a" style="left:922px;top:301px;width:503px;height:31px;background:#243858;"></div>
<div class="a" style="left:920px;top:300px;width:1px;height:34px;background:#1e1f2e;"></div>
<div class="a" style="left:921px;top:300px;width:1px;height:34px;background:#323357;"></div>
<div class="a" style="left:229px;top:332px;width:1196px;height:1px;background:#222436;"></div>
<div class="a" style="left:229px;top:333px;width:1196px;height:1px;background:#1e1f2e;"></div>
<i class="r" style="left:230px;top:302px;width:27px"></i>
<i class="r" style="left:259px;top:302px;width:27px"></i>
<i class="r" style="left:288px;top:302px;width:26px"></i>
<i class="r" style="left:316px;top:302px;width:27px"></i>
<i class="r" style="left:345px;top:302px;width:27px"></i>
<i class="r" style="left:374px;top:302px;width:27px"></i>
<i class="r" style="left:403px;top:302px;width:27px"></i>
<i class="r" style="left:432px;top:302px;width:26px"></i>
<i class="r" style="left:460px;top:302px;width:27px"></i>
<i class="r" style="left:489px;top:302px;width:27px"></i>
<i class="r" style="left:518px;top:302px;width:27px"></i>
<i class="r" style="left:547px;top:302px;width:26px"></i>
<i class="r" style="left:575px;top:302px;width:27px"></i>
<i class="r" style="left:604px;top:302px;width:27px"></i>
<i class="r" style="left:633px;top:302px;width:27px"></i>
<i class="r" style="left:662px;top:302px;width:27px"></i>
<i class="r" style="left:691px;top:302px;width:26px"></i>
<i class="r" style="left:719px;top:302px;width:27px"></i>
<i class="r" style="left:748px;top:302px;width:27px"></i>
<i class="r" style="left:777px;top:302px;width:27px"></i>
<i class="r" style="left:806px;top:302px;width:27px"></i>
<i class="r" style="left:835px;top:302px;width:26px"></i>
<i class="r" style="left:863px;top:302px;width:27px"></i>
<i class="r" style="left:892px;top:302px;width:27px"></i>
<i class="r" style="left:923px;top:302px;width:27px"></i>
<i class="r" style="left:952px;top:302px;width:27px"></i>
<i class="r" style="left:981px;top:302px;width:26px"></i>
<i class="r" style="left:1009px;top:302px;width:27px"></i>
<i class="r" style="left:1038px;top:302px;width:27px"></i>
<i class="r" style="left:1067px;top:302px;width:27px"></i>
<i class="r" style="left:1096px;top:302px;width:27px"></i>
<i class="r" style="left:1125px;top:302px;width:26px"></i>
<i class="r" style="left:1153px;top:302px;width:27px"></i>
<i class="r" style="left:1182px;top:302px;width:27px"></i>
<i class="r" style="left:1211px;top:302px;width:27px"></i>
<i class="r" style="left:1240px;top:302px;width:26px"></i>
<i class="r" style="left:1268px;top:302px;width:27px"></i>
<i class="r" style="left:1297px;top:302px;width:27px"></i>
<i class="r" style="left:1326px;top:302px;width:27px"></i>
<i class="r" style="left:1355px;top:302px;width:27px"></i>
<i class="r" style="left:1384px;top:302px;width:26px"></i>
<i class="r" style="left:1412px;top:302px;width:13px"></i>
<div class="t" style="left:110px;width:118px;text-align:center;top:312.00px;font-size:11.8px;color:#a2a4b6;font-weight:400;-webkit-text-stroke:0.35px #a2a4b6;letter-spacing:0.12px">*Admins</div>
<div class="a" style="left:110px;top:334px;width:118px;height:1px;background:#323357;"></div>
<div class="a" style="left:229px;top:334px;width:1196px;height:1px;background:#323357;"></div>
<div class="a" style="left:229px;top:335px;width:1196px;height:2px;background:#1e1f2e;"></div>
<div class="a" style="left:229px;top:337px;width:691px;height:31px;background:#243858;"></div>
<div class="a" style="left:922px;top:337px;width:503px;height:31px;background:#243858;"></div>
<div class="a" style="left:920px;top:335px;width:1px;height:35px;background:#1e1f2e;"></div>
<div class="a" style="left:921px;top:335px;width:1px;height:35px;background:#323357;"></div>
<div class="a" style="left:229px;top:368px;width:1196px;height:1px;background:#222436;"></div>
<div class="a" style="left:229px;top:369px;width:1196px;height:1px;background:#1e1f2e;"></div>
<i class="r" style="left:230px;top:338px;width:27px"></i>
<i class="r" style="left:259px;top:338px;width:27px"></i>
<i class="r" style="left:288px;top:338px;width:26px"></i>
<i class="r" style="left:316px;top:338px;width:27px"></i>
<i class="r" style="left:345px;top:338px;width:27px"></i>
<i class="r" style="left:374px;top:338px;width:27px"></i>
<i class="r" style="left:403px;top:338px;width:27px"></i>
<i class="r" style="left:432px;top:338px;width:26px"></i>
<i class="r" style="left:460px;top:338px;width:27px"></i>
<i class="r" style="left:489px;top:338px;width:27px"></i>
<i class="r" style="left:518px;top:338px;width:27px"></i>
<i class="r" style="left:547px;top:338px;width:26px"></i>
<i class="r" style="left:575px;top:338px;width:27px"></i>
<i class="r" style="left:604px;top:338px;width:27px"></i>
<i class="r" style="left:633px;top:338px;width:27px"></i>
<i class="r" style="left:662px;top:338px;width:27px"></i>
<i class="r" style="left:691px;top:338px;width:26px"></i>
<i class="r" style="left:719px;top:338px;width:27px"></i>
<i class="r" style="left:748px;top:338px;width:27px"></i>
<i class="r" style="left:777px;top:338px;width:27px"></i>
<i class="r" style="left:806px;top:338px;width:27px"></i>
<i class="r" style="left:835px;top:338px;width:26px"></i>
<i class="r" style="left:863px;top:338px;width:27px"></i>
<i class="r" style="left:892px;top:338px;width:27px"></i>
<i class="r" style="left:923px;top:338px;width:27px"></i>
<i class="r" style="left:952px;top:338px;width:27px"></i>
<i class="r" style="left:981px;top:338px;width:26px"></i>
<i class="r" style="left:1009px;top:338px;width:27px"></i>
<i class="r" style="left:1038px;top:338px;width:27px"></i>
<i class="r" style="left:1067px;top:338px;width:27px"></i>
<i class="r" style="left:1096px;top:338px;width:27px"></i>
<i class="r" style="left:1125px;top:338px;width:26px"></i>
<i class="r" style="left:1153px;top:338px;width:27px"></i>
<i class="r" style="left:1182px;top:338px;width:27px"></i>
<i class="r" style="left:1211px;top:338px;width:27px"></i>
<i class="r" style="left:1240px;top:338px;width:26px"></i>
<i class="r" style="left:1268px;top:338px;width:27px"></i>
<i class="r" style="left:1297px;top:338px;width:27px"></i>
<i class="r" style="left:1326px;top:338px;width:27px"></i>
<i class="r" style="left:1355px;top:338px;width:27px"></i>
<i class="r" style="left:1384px;top:338px;width:26px"></i>
<i class="r" style="left:1412px;top:338px;width:13px"></i>
<div class="t" style="left:110px;width:118px;text-align:center;top:347.00px;font-size:11.8px;color:#a2a4b6;font-weight:400;-webkit-text-stroke:0.35px #a2a4b6;letter-spacing:0.12px">Gold</div>
<div class="a" style="left:110px;top:370px;width:118px;height:1px;background:#323357;"></div>
<div class="a" style="left:229px;top:370px;width:1196px;height:1px;background:#323357;"></div>
<div class="a" style="left:229px;top:371px;width:1196px;height:1px;background:#1e1f2e;"></div>
<div class="a" style="left:229px;top:372px;width:691px;height:31px;background:#243858;"></div>
<div class="a" style="left:922px;top:372px;width:503px;height:31px;background:#243858;"></div>
<div class="a" style="left:920px;top:371px;width:1px;height:35px;background:#1e1f2e;"></div>
<div class="a" style="left:921px;top:371px;width:1px;height:35px;background:#323357;"></div>
<div class="a" style="left:229px;top:403px;width:1196px;height:1px;background:#222436;"></div>
<div class="a" style="left:229px;top:404px;width:1196px;height:2px;background:#1e1f2e;"></div>
<i class="r" style="left:230px;top:373px;width:27px"></i>
<i class="r" style="left:259px;top:373px;width:27px"></i>
<i class="r" style="left:288px;top:373px;width:26px"></i>
<i class="r" style="left:316px;top:373px;width:27px"></i>
<i class="r" style="left:345px;top:373px;width:27px"></i>
<i class="r" style="left:374px;top:373px;width:27px"></i>
<i class="r" style="left:403px;top:373px;width:27px"></i>
<i class="r" style="left:432px;top:373px;width:26px"></i>
<i class="r" style="left:460px;top:373px;width:27px"></i>
<i class="r" style="left:489px;top:373px;width:27px"></i>
<i class="r" style="left:518px;top:373px;width:27px"></i>
<i class="r" style="left:547px;top:373px;width:26px"></i>
<i class="r" style="left:575px;top:373px;width:27px"></i>
<i class="r" style="left:604px;top:373px;width:27px"></i>
<i class="r" style="left:633px;top:373px;width:27px"></i>
<i class="r" style="left:662px;top:373px;width:27px"></i>
<i class="r" style="left:691px;top:373px;width:26px"></i>
<i class="r" style="left:719px;top:373px;width:27px"></i>
<i class="r" style="left:748px;top:373px;width:27px"></i>
<i class="r" style="left:777px;top:373px;width:27px"></i>
<i class="r" style="left:806px;top:373px;width:27px"></i>
<i class="r" style="left:835px;top:373px;width:26px"></i>
<i class="r" style="left:863px;top:373px;width:27px"></i>
<i class="r" style="left:892px;top:373px;width:27px"></i>
<i class="r" style="left:923px;top:373px;width:27px"></i>
<i class="r" style="left:952px;top:373px;width:27px"></i>
<i class="r" style="left:981px;top:373px;width:26px"></i>
<i class="r" style="left:1009px;top:373px;width:27px"></i>
<i class="r" style="left:1038px;top:373px;width:27px"></i>
<i class="r" style="left:1067px;top:373px;width:27px"></i>
<i class="r" style="left:1096px;top:373px;width:27px"></i>
<i class="r" style="left:1125px;top:373px;width:26px"></i>
<i class="r" style="left:1153px;top:373px;width:27px"></i>
<i class="r" style="left:1182px;top:373px;width:27px"></i>
<i class="r" style="left:1211px;top:373px;width:27px"></i>
<i class="r" style="left:1240px;top:373px;width:26px"></i>
<i class="r" style="left:1268px;top:373px;width:27px"></i>
<i class="r" style="left:1297px;top:373px;width:27px"></i>
<i class="r" style="left:1326px;top:373px;width:27px"></i>
<i class="r" style="left:1355px;top:373px;width:27px"></i>
<i class="r" style="left:1384px;top:373px;width:26px"></i>
<i class="r" style="left:1412px;top:373px;width:13px"></i>
<div class="t" style="left:110px;width:118px;text-align:center;top:383.00px;font-size:11.8px;color:#a2a4b6;font-weight:400;-webkit-text-stroke:0.35px #a2a4b6;letter-spacing:0.12px">Platinum</div>
<div class="a" style="left:110px;top:406px;width:118px;height:1px;background:#323357;"></div>
<div class="a" style="left:229px;top:406px;width:1196px;height:1px;background:#323357;"></div>
<div class="a" style="left:229px;top:407px;width:1196px;height:1px;background:#1e1f2e;"></div>
<div class="a" style="left:229px;top:408px;width:691px;height:31px;background:#243858;"></div>
<div class="a" style="left:922px;top:408px;width:503px;height:31px;background:#243858;"></div>
<div class="a" style="left:920px;top:407px;width:1px;height:34px;background:#1e1f2e;"></div>
<div class="a" style="left:921px;top:407px;width:1px;height:34px;background:#323357;"></div>
<div class="a" style="left:229px;top:439px;width:1196px;height:1px;background:#222436;"></div>
<div class="a" style="left:229px;top:440px;width:1196px;height:1px;background:#1e1f2e;"></div>
<i class="r" style="left:230px;top:409px;width:27px"></i>
<i class="r" style="left:259px;top:409px;width:27px"></i>
<i class="r" style="left:288px;top:409px;width:26px"></i>
<i class="r" style="left:316px;top:409px;width:27px"></i>
<i class="r" style="left:345px;top:409px;width:27px"></i>
<i class="r" style="left:374px;top:409px;width:27px"></i>
<i class="r" style="left:403px;top:409px;width:27px"></i>
<i class="r" style="left:432px;top:409px;width:26px"></i>
<i class="r" style="left:460px;top:409px;width:27px"></i>
<i class="r" style="left:489px;top:409px;width:27px"></i>
<i class="r" style="left:518px;top:409px;width:27px"></i>
<i class="r" style="left:547px;top:409px;width:26px"></i>
<i class="r" style="left:575px;top:409px;width:27px"></i>
<i class="r" style="left:604px;top:409px;width:27px"></i>
<i class="r" style="left:633px;top:409px;width:27px"></i>
<i class="r" style="left:662px;top:409px;width:27px"></i>
<i class="r" style="left:691px;top:409px;width:26px"></i>
<i class="r" style="left:719px;top:409px;width:27px"></i>
<i class="r" style="left:748px;top:409px;width:27px"></i>
<i class="r" style="left:777px;top:409px;width:27px"></i>
<i class="r" style="left:806px;top:409px;width:27px"></i>
<i class="r" style="left:835px;top:409px;width:26px"></i>
<i class="r" style="left:863px;top:409px;width:27px"></i>
<i class="r" style="left:892px;top:409px;width:27px"></i>
<i class="r" style="left:923px;top:409px;width:27px"></i>
<i class="r" style="left:952px;top:409px;width:27px"></i>
<i class="r" style="left:981px;top:409px;width:26px"></i>
<i class="r" style="left:1009px;top:409px;width:27px"></i>
<i class="r" style="left:1038px;top:409px;width:27px"></i>
<i class="r" style="left:1067px;top:409px;width:27px"></i>
<i class="r" style="left:1096px;top:409px;width:27px"></i>
<i class="r" style="left:1125px;top:409px;width:26px"></i>
<i class="r" style="left:1153px;top:409px;width:27px"></i>
<i class="r" style="left:1182px;top:409px;width:27px"></i>
<i class="r" style="left:1211px;top:409px;width:27px"></i>
<i class="r" style="left:1240px;top:409px;width:26px"></i>
<i class="r" style="left:1268px;top:409px;width:27px"></i>
<i class="r" style="left:1297px;top:409px;width:27px"></i>
<i class="r" style="left:1326px;top:409px;width:27px"></i>
<i class="r" style="left:1355px;top:409px;width:27px"></i>
<i class="r" style="left:1384px;top:409px;width:26px"></i>
<i class="r" style="left:1412px;top:409px;width:13px"></i>
<div class="t" style="left:110px;width:118px;text-align:center;top:419.00px;font-size:11.8px;color:#a2a4b6;font-weight:400;-webkit-text-stroke:0.35px #a2a4b6;letter-spacing:0.3px">General</div>
<div class="a" style="left:110px;top:441px;width:118px;height:1px;background:#323357;"></div>
<div class="a" style="left:229px;top:441px;width:1196px;height:1px;background:#323357;"></div>
<div class="a" style="left:1px;top:441px;width:108px;height:1px;background:#323357;"></div>
<div class="a" style="left:229px;top:442px;width:1196px;height:2px;background:#1e1f2e;"></div>
<div class="a" style="left:229px;top:444px;width:691px;height:31px;background:#243858;"></div>
<div class="a" style="left:922px;top:444px;width:503px;height:31px;background:#243858;"></div>
<div class="a" style="left:920px;top:442px;width:1px;height:35px;background:#1e1f2e;"></div>
<div class="a" style="left:921px;top:442px;width:1px;height:35px;background:#323357;"></div>
<div class="a" style="left:229px;top:475px;width:1196px;height:1px;background:#222436;"></div>
<div class="a" style="left:229px;top:476px;width:1196px;height:1px;background:#1e1f2e;"></div>
<i class="r" style="left:230px;top:445px;width:27px"></i>
<i class="r" style="left:259px;top:445px;width:27px"></i>
<i class="r" style="left:288px;top:445px;width:26px"></i>
<i class="r" style="left:316px;top:445px;width:27px"></i>
<i class="r" style="left:345px;top:445px;width:27px"></i>
<i class="r" style="left:374px;top:445px;width:27px"></i>
<i class="r" style="left:403px;top:445px;width:27px"></i>
<i class="r" style="left:432px;top:445px;width:26px"></i>
<i class="r" style="left:460px;top:445px;width:27px"></i>
<i class="r" style="left:489px;top:445px;width:27px"></i>
<i class="r" style="left:518px;top:445px;width:27px"></i>
<i class="r" style="left:547px;top:445px;width:26px"></i>
<i class="r" style="left:575px;top:445px;width:27px"></i>
<i class="r" style="left:604px;top:445px;width:27px"></i>
<i class="r" style="left:633px;top:445px;width:27px"></i>
<i class="r" style="left:662px;top:445px;width:27px"></i>
<i class="r" style="left:691px;top:445px;width:26px"></i>
<i class="r" style="left:719px;top:445px;width:27px"></i>
<i class="r" style="left:748px;top:445px;width:27px"></i>
<i class="r" style="left:777px;top:445px;width:27px"></i>
<i class="r" style="left:806px;top:445px;width:27px"></i>
<i class="r" style="left:835px;top:445px;width:26px"></i>
<i class="r" style="left:863px;top:445px;width:27px"></i>
<i class="r" style="left:892px;top:445px;width:27px"></i>
<i class="d" style="left:923px;top:445px;width:27px"></i>
<i class="d" style="left:952px;top:445px;width:27px"></i>
<i class="d" style="left:981px;top:445px;width:26px"></i>
<i class="d" style="left:1009px;top:445px;width:27px"></i>
<i class="d" style="left:1038px;top:445px;width:27px"></i>
<i class="d" style="left:1067px;top:445px;width:27px"></i>
<i class="d" style="left:1096px;top:445px;width:27px"></i>
<i class="d" style="left:1125px;top:445px;width:26px"></i>
<i class="d" style="left:1153px;top:445px;width:27px"></i>
<i class="d" style="left:1182px;top:445px;width:27px"></i>
<i class="d" style="left:1211px;top:445px;width:27px"></i>
<i class="d" style="left:1240px;top:445px;width:26px"></i>
<i class="d" style="left:1268px;top:445px;width:27px"></i>
<i class="d" style="left:1297px;top:445px;width:27px"></i>
<i class="d" style="left:1326px;top:445px;width:27px"></i>
<i class="d" style="left:1355px;top:445px;width:27px"></i>
<i class="d" style="left:1384px;top:445px;width:26px"></i>
<i class="d" style="left:1412px;top:445px;width:13px"></i>
<div class="t" style="left:110px;width:118px;text-align:center;top:454.00px;font-size:11.8px;color:#a2a4b6;font-weight:400;-webkit-text-stroke:0.35px #a2a4b6;letter-spacing:0.45px">Default</div>
<div class="a" style="left:110px;top:477px;width:118px;height:1px;background:#323357;"></div>
<div class="a" style="left:229px;top:477px;width:1196px;height:1px;background:#323357;"></div>
<div class="a" style="left:229px;top:478px;width:1196px;height:2px;background:#1e1f2e;"></div>
<div class="a" style="left:229px;top:480px;width:691px;height:31px;background:#243858;"></div>
<div class="a" style="left:922px;top:480px;width:503px;height:31px;background:#243858;"></div>
<div class="a" style="left:920px;top:478px;width:1px;height:35px;background:#1e1f2e;"></div>
<div class="a" style="left:921px;top:478px;width:1px;height:35px;background:#323357;"></div>
<div class="a" style="left:229px;top:511px;width:1196px;height:1px;background:#222436;"></div>
<div class="a" style="left:229px;top:512px;width:1196px;height:1px;background:#1e1f2e;"></div>
<i class="r" style="left:230px;top:481px;width:27px"></i>
<i class="r" style="left:259px;top:481px;width:27px"></i>
<i class="r" style="left:288px;top:481px;width:26px"></i>
<i class="r" style="left:316px;top:481px;width:27px"></i>
<i class="r" style="left:345px;top:481px;width:27px"></i>
<i class="r" style="left:374px;top:481px;width:27px"></i>
<i class="r" style="left:403px;top:481px;width:27px"></i>
<i class="r" style="left:432px;top:481px;width:26px"></i>
<i class="r" style="left:460px;top:481px;width:27px"></i>
<i class="r" style="left:489px;top:481px;width:27px"></i>
<i class="r" style="left:518px;top:481px;width:27px"></i>
<i class="r" style="left:547px;top:481px;width:26px"></i>
<i class="r" style="left:575px;top:481px;width:27px"></i>
<i class="r" style="left:604px;top:481px;width:27px"></i>
<i class="r" style="left:633px;top:481px;width:27px"></i>
<i class="r" style="left:662px;top:481px;width:27px"></i>
<i class="r" style="left:691px;top:481px;width:26px"></i>
<i class="r" style="left:719px;top:481px;width:27px"></i>
<i class="r" style="left:748px;top:481px;width:27px"></i>
<i class="r" style="left:777px;top:481px;width:27px"></i>
<i class="r" style="left:806px;top:481px;width:27px"></i>
<i class="r" style="left:835px;top:481px;width:26px"></i>
<i class="r" style="left:863px;top:481px;width:27px"></i>
<i class="r" style="left:892px;top:481px;width:27px"></i>
<i class="d" style="left:923px;top:481px;width:27px"></i>
<i class="d" style="left:952px;top:481px;width:27px"></i>
<i class="d" style="left:981px;top:481px;width:26px"></i>
<i class="d" style="left:1009px;top:481px;width:27px"></i>
<i class="d" style="left:1038px;top:481px;width:27px"></i>
<i class="d" style="left:1067px;top:481px;width:27px"></i>
<i class="d" style="left:1096px;top:481px;width:27px"></i>
<i class="d" style="left:1125px;top:481px;width:26px"></i>
<i class="d" style="left:1153px;top:481px;width:27px"></i>
<i class="d" style="left:1182px;top:481px;width:27px"></i>
<i class="d" style="left:1211px;top:481px;width:27px"></i>
<i class="d" style="left:1240px;top:481px;width:26px"></i>
<i class="d" style="left:1268px;top:481px;width:27px"></i>
<i class="d" style="left:1297px;top:481px;width:27px"></i>
<i class="d" style="left:1326px;top:481px;width:27px"></i>
<i class="d" style="left:1355px;top:481px;width:27px"></i>
<i class="d" style="left:1384px;top:481px;width:26px"></i>
<i class="d" style="left:1412px;top:481px;width:13px"></i>
<div class="t" style="left:110px;width:118px;text-align:center;top:490.00px;font-size:11.8px;color:#a2a4b6;font-weight:400;-webkit-text-stroke:0.35px #a2a4b6;letter-spacing:0.12px">Postpaid</div>
<div class="a" style="left:110px;top:513px;width:118px;height:1px;background:#323357;"></div>
<div class="a" style="left:229px;top:513px;width:1196px;height:1px;background:#323357;"></div>
<div class="a" style="left:229px;top:514px;width:1196px;height:1px;background:#1e1f2e;"></div>
<div class="a" style="left:229px;top:515px;width:691px;height:31px;background:#243858;"></div>
<div class="a" style="left:922px;top:515px;width:503px;height:31px;background:#243858;"></div>
<div class="a" style="left:920px;top:514px;width:1px;height:35px;background:#1e1f2e;"></div>
<div class="a" style="left:921px;top:514px;width:1px;height:35px;background:#323357;"></div>
<div class="a" style="left:229px;top:546px;width:1196px;height:1px;background:#222436;"></div>
<div class="a" style="left:229px;top:547px;width:1196px;height:2px;background:#1e1f2e;"></div>
<i class="r" style="left:230px;top:516px;width:27px"></i>
<i class="r" style="left:259px;top:516px;width:27px"></i>
<i class="r" style="left:288px;top:516px;width:26px"></i>
<i class="r" style="left:316px;top:516px;width:27px"></i>
<i class="r" style="left:345px;top:516px;width:27px"></i>
<i class="r" style="left:374px;top:516px;width:27px"></i>
<i class="r" style="left:403px;top:516px;width:27px"></i>
<i class="r" style="left:432px;top:516px;width:26px"></i>
<i class="r" style="left:460px;top:516px;width:27px"></i>
<i class="r" style="left:489px;top:516px;width:27px"></i>
<i class="r" style="left:518px;top:516px;width:27px"></i>
<i class="r" style="left:547px;top:516px;width:26px"></i>
<i class="r" style="left:575px;top:516px;width:27px"></i>
<i class="r" style="left:604px;top:516px;width:27px"></i>
<i class="r" style="left:633px;top:516px;width:27px"></i>
<i class="r" style="left:662px;top:516px;width:27px"></i>
<i class="r" style="left:691px;top:516px;width:26px"></i>
<i class="r" style="left:719px;top:516px;width:27px"></i>
<i class="r" style="left:748px;top:516px;width:27px"></i>
<i class="r" style="left:777px;top:516px;width:27px"></i>
<i class="r" style="left:806px;top:516px;width:27px"></i>
<i class="r" style="left:835px;top:516px;width:26px"></i>
<i class="r" style="left:863px;top:516px;width:27px"></i>
<i class="r" style="left:892px;top:516px;width:27px"></i>
<i class="r" style="left:923px;top:516px;width:27px"></i>
<i class="r" style="left:952px;top:516px;width:27px"></i>
<i class="r" style="left:981px;top:516px;width:26px"></i>
<i class="r" style="left:1009px;top:516px;width:27px"></i>
<i class="r" style="left:1038px;top:516px;width:27px"></i>
<i class="r" style="left:1067px;top:516px;width:27px"></i>
<i class="r" style="left:1096px;top:516px;width:27px"></i>
<i class="r" style="left:1125px;top:516px;width:26px"></i>
<i class="r" style="left:1153px;top:516px;width:27px"></i>
<i class="r" style="left:1182px;top:516px;width:27px"></i>
<i class="r" style="left:1211px;top:516px;width:27px"></i>
<i class="r" style="left:1240px;top:516px;width:26px"></i>
<i class="r" style="left:1268px;top:516px;width:27px"></i>
<i class="r" style="left:1297px;top:516px;width:27px"></i>
<i class="r" style="left:1326px;top:516px;width:27px"></i>
<i class="r" style="left:1355px;top:516px;width:27px"></i>
<i class="r" style="left:1384px;top:516px;width:26px"></i>
<i class="r" style="left:1412px;top:516px;width:13px"></i>
<div class="t" style="left:110px;width:118px;text-align:center;top:526.00px;font-size:11.8px;color:#a2a4b6;font-weight:400;-webkit-text-stroke:0.35px #a2a4b6;letter-spacing:0.12px">Prepaid</div>
<div class="a" style="left:110px;top:549px;width:118px;height:1px;background:#323357;"></div>
<div class="a" style="left:229px;top:549px;width:1196px;height:1px;background:#323357;"></div>
<div class="a" style="left:229px;top:550px;width:1196px;height:1px;background:#1e1f2e;"></div>
<div class="a" style="left:229px;top:551px;width:691px;height:31px;background:#243858;"></div>
<div class="a" style="left:922px;top:551px;width:503px;height:31px;background:#243858;"></div>
<div class="a" style="left:920px;top:550px;width:1px;height:34px;background:#1e1f2e;"></div>
<div class="a" style="left:921px;top:550px;width:1px;height:34px;background:#323357;"></div>
<div class="a" style="left:229px;top:582px;width:1196px;height:1px;background:#222436;"></div>
<div class="a" style="left:229px;top:583px;width:1196px;height:1px;background:#1e1f2e;"></div>
<i class="r" style="left:230px;top:552px;width:27px"></i>
<i class="r" style="left:259px;top:552px;width:27px"></i>
<i class="r" style="left:288px;top:552px;width:26px"></i>
<i class="r" style="left:316px;top:552px;width:27px"></i>
<i class="r" style="left:345px;top:552px;width:27px"></i>
<i class="r" style="left:374px;top:552px;width:27px"></i>
<i class="r" style="left:403px;top:552px;width:27px"></i>
<i class="r" style="left:432px;top:552px;width:26px"></i>
<i class="r" style="left:460px;top:552px;width:27px"></i>
<i class="r" style="left:489px;top:552px;width:27px"></i>
<i class="r" style="left:518px;top:552px;width:27px"></i>
<i class="r" style="left:547px;top:552px;width:26px"></i>
<i class="r" style="left:575px;top:552px;width:27px"></i>
<i class="r" style="left:604px;top:552px;width:27px"></i>
<i class="r" style="left:633px;top:552px;width:27px"></i>
<i class="r" style="left:662px;top:552px;width:27px"></i>
<i class="r" style="left:691px;top:552px;width:26px"></i>
<i class="r" style="left:719px;top:552px;width:27px"></i>
<i class="r" style="left:748px;top:552px;width:27px"></i>
<i class="r" style="left:777px;top:552px;width:27px"></i>
<i class="r" style="left:806px;top:552px;width:27px"></i>
<i class="r" style="left:835px;top:552px;width:26px"></i>
<i class="r" style="left:863px;top:552px;width:27px"></i>
<i class="r" style="left:892px;top:552px;width:27px"></i>
<i class="r" style="left:923px;top:552px;width:27px"></i>
<i class="r" style="left:952px;top:552px;width:27px"></i>
<i class="r" style="left:981px;top:552px;width:26px"></i>
<i class="r" style="left:1009px;top:552px;width:27px"></i>
<i class="r" style="left:1038px;top:552px;width:27px"></i>
<i class="r" style="left:1067px;top:552px;width:27px"></i>
<i class="r" style="left:1096px;top:552px;width:27px"></i>
<i class="r" style="left:1125px;top:552px;width:26px"></i>
<i class="r" style="left:1153px;top:552px;width:27px"></i>
<i class="r" style="left:1182px;top:552px;width:27px"></i>
<i class="r" style="left:1211px;top:552px;width:27px"></i>
<i class="r" style="left:1240px;top:552px;width:26px"></i>
<i class="r" style="left:1268px;top:552px;width:27px"></i>
<i class="r" style="left:1297px;top:552px;width:27px"></i>
<i class="r" style="left:1326px;top:552px;width:27px"></i>
<i class="r" style="left:1355px;top:552px;width:27px"></i>
<i class="r" style="left:1384px;top:552px;width:26px"></i>
<i class="r" style="left:1412px;top:552px;width:13px"></i>
<div class="t" style="left:110px;width:118px;text-align:center;top:562.00px;font-size:11.8px;color:#a2a4b6;font-weight:400;-webkit-text-stroke:0.35px #a2a4b6;letter-spacing:-0.02px">Offer session</div>
<div class="a" style="left:110px;top:584px;width:118px;height:1px;background:#323357;"></div>
<div class="a" style="left:229px;top:584px;width:1196px;height:1px;background:#323357;"></div>
<div class="a" style="left:229px;top:585px;width:1196px;height:2px;background:#1e1f2e;"></div>
<div class="a" style="left:229px;top:587px;width:691px;height:31px;background:#243858;"></div>
<div class="a" style="left:922px;top:587px;width:503px;height:31px;background:#243858;"></div>
<div class="a" style="left:920px;top:585px;width:1px;height:35px;background:#1e1f2e;"></div>
<div class="a" style="left:921px;top:585px;width:1px;height:35px;background:#323357;"></div>
<div class="a" style="left:229px;top:618px;width:1196px;height:1px;background:#222436;"></div>
<div class="a" style="left:229px;top:619px;width:1196px;height:1px;background:#1e1f2e;"></div>
<i class="r" style="left:230px;top:588px;width:27px"></i>
<i class="r" style="left:259px;top:588px;width:27px"></i>
<i class="r" style="left:288px;top:588px;width:26px"></i>
<i class="r" style="left:316px;top:588px;width:27px"></i>
<i class="r" style="left:345px;top:588px;width:27px"></i>
<i class="r" style="left:374px;top:588px;width:27px"></i>
<i class="r" style="left:403px;top:588px;width:27px"></i>
<i class="r" style="left:432px;top:588px;width:26px"></i>
<i class="r" style="left:460px;top:588px;width:27px"></i>
<i class="r" style="left:489px;top:588px;width:27px"></i>
<i class="r" style="left:518px;top:588px;width:27px"></i>
<i class="r" style="left:547px;top:588px;width:26px"></i>
<i class="r" style="left:575px;top:588px;width:27px"></i>
<i class="r" style="left:604px;top:588px;width:27px"></i>
<i class="r" style="left:633px;top:588px;width:27px"></i>
<i class="r" style="left:662px;top:588px;width:27px"></i>
<i class="r" style="left:691px;top:588px;width:26px"></i>
<i class="r" style="left:719px;top:588px;width:27px"></i>
<i class="r" style="left:748px;top:588px;width:27px"></i>
<i class="r" style="left:777px;top:588px;width:27px"></i>
<i class="r" style="left:806px;top:588px;width:27px"></i>
<i class="r" style="left:835px;top:588px;width:26px"></i>
<i class="r" style="left:863px;top:588px;width:27px"></i>
<i class="r" style="left:892px;top:588px;width:27px"></i>
<i class="d" style="left:923px;top:588px;width:27px"></i>
<i class="d" style="left:952px;top:588px;width:27px"></i>
<i class="d" style="left:981px;top:588px;width:26px"></i>
<i class="d" style="left:1009px;top:588px;width:27px"></i>
<i class="d" style="left:1038px;top:588px;width:27px"></i>
<i class="d" style="left:1067px;top:588px;width:27px"></i>
<i class="d" style="left:1096px;top:588px;width:27px"></i>
<i class="d" style="left:1125px;top:588px;width:26px"></i>
<i class="d" style="left:1153px;top:588px;width:27px"></i>
<i class="d" style="left:1182px;top:588px;width:27px"></i>
<i class="d" style="left:1211px;top:588px;width:27px"></i>
<i class="d" style="left:1240px;top:588px;width:26px"></i>
<i class="d" style="left:1268px;top:588px;width:27px"></i>
<i class="d" style="left:1297px;top:588px;width:27px"></i>
<i class="d" style="left:1326px;top:588px;width:27px"></i>
<i class="d" style="left:1355px;top:588px;width:27px"></i>
<i class="d" style="left:1384px;top:588px;width:26px"></i>
<i class="d" style="left:1412px;top:588px;width:13px"></i>
<div class="t" style="left:110px;width:118px;text-align:center;top:597.00px;font-size:11.8px;color:#a2a4b6;font-weight:400;-webkit-text-stroke:0.35px #a2a4b6;letter-spacing:0.12px">Guest</div>
<div class="a" style="left:110px;top:620px;width:118px;height:1px;background:#323357;"></div>
<div class="a" style="left:229px;top:620px;width:1196px;height:1px;background:#323357;"></div>
<div class="a" style="left:229px;top:621px;width:1196px;height:2px;background:#1e1f2e;"></div>
<div class="a" style="left:229px;top:623px;width:691px;height:31px;background:#243858;"></div>
<div class="a" style="left:922px;top:623px;width:503px;height:31px;background:#243858;"></div>
<div class="a" style="left:920px;top:621px;width:1px;height:35px;background:#1e1f2e;"></div>
<div class="a" style="left:921px;top:621px;width:1px;height:35px;background:#323357;"></div>
<div class="a" style="left:229px;top:654px;width:1196px;height:1px;background:#222436;"></div>
<div class="a" style="left:229px;top:655px;width:1196px;height:1px;background:#1e1f2e;"></div>
<i class="r" style="left:230px;top:624px;width:27px"></i>
<i class="r" style="left:259px;top:624px;width:27px"></i>
<i class="r" style="left:288px;top:624px;width:26px"></i>
<i class="r" style="left:316px;top:624px;width:27px"></i>
<i class="r" style="left:345px;top:624px;width:27px"></i>
<i class="r" style="left:374px;top:624px;width:27px"></i>
<i class="r" style="left:403px;top:624px;width:27px"></i>
<i class="r" style="left:432px;top:624px;width:26px"></i>
<i class="r" style="left:460px;top:624px;width:27px"></i>
<i class="r" style="left:489px;top:624px;width:27px"></i>
<i class="r" style="left:518px;top:624px;width:27px"></i>
<i class="r" style="left:547px;top:624px;width:26px"></i>
<i class="r" style="left:575px;top:624px;width:27px"></i>
<i class="r" style="left:604px;top:624px;width:27px"></i>
<i class="r" style="left:633px;top:624px;width:27px"></i>
<i class="r" style="left:662px;top:624px;width:27px"></i>
<i class="r" style="left:691px;top:624px;width:26px"></i>
<i class="r" style="left:719px;top:624px;width:27px"></i>
<i class="r" style="left:748px;top:624px;width:27px"></i>
<i class="r" style="left:777px;top:624px;width:27px"></i>
<i class="r" style="left:806px;top:624px;width:27px"></i>
<i class="r" style="left:835px;top:624px;width:26px"></i>
<i class="r" style="left:863px;top:624px;width:27px"></i>
<i class="r" style="left:892px;top:624px;width:27px"></i>
<i class="r" style="left:923px;top:624px;width:27px"></i>
<i class="r" style="left:952px;top:624px;width:27px"></i>
<i class="r" style="left:981px;top:624px;width:26px"></i>
<i class="r" style="left:1009px;top:624px;width:27px"></i>
<i class="r" style="left:1038px;top:624px;width:27px"></i>
<i class="r" style="left:1067px;top:624px;width:27px"></i>
<i class="r" style="left:1096px;top:624px;width:27px"></i>
<i class="r" style="left:1125px;top:624px;width:26px"></i>
<i class="r" style="left:1153px;top:624px;width:27px"></i>
<i class="r" style="left:1182px;top:624px;width:27px"></i>
<i class="r" style="left:1211px;top:624px;width:27px"></i>
<i class="r" style="left:1240px;top:624px;width:26px"></i>
<i class="r" style="left:1268px;top:624px;width:27px"></i>
<i class="r" style="left:1297px;top:624px;width:27px"></i>
<i class="r" style="left:1326px;top:624px;width:27px"></i>
<i class="r" style="left:1355px;top:624px;width:27px"></i>
<i class="r" style="left:1384px;top:624px;width:26px"></i>
<i class="r" style="left:1412px;top:624px;width:13px"></i>
<div class="t" style="left:110px;width:118px;text-align:center;top:633.00px;font-size:11.8px;color:#a2a4b6;font-weight:400;-webkit-text-stroke:0.35px #a2a4b6;letter-spacing:0.12px">Silver</div>
<div class="a" style="left:110px;top:656px;width:118px;height:1px;background:#323357;"></div>
<div class="a" style="left:229px;top:656px;width:1196px;height:1px;background:#323357;"></div>
<div class="a" style="left:229px;top:657px;width:1196px;height:2px;background:#1e1f2e;"></div>
<div class="a" style="left:229px;top:659px;width:691px;height:31px;background:#243858;"></div>
<div class="a" style="left:922px;top:659px;width:503px;height:31px;background:#243858;"></div>
<div class="a" style="left:920px;top:657px;width:1px;height:34px;background:#1e1f2e;"></div>
<div class="a" style="left:921px;top:657px;width:1px;height:34px;background:#323357;"></div>
<div class="a" style="left:229px;top:690px;width:1196px;height:1px;background:#222436;"></div>
<div class="a" style="left:229px;top:691px;width:1196px;height:0px;background:#1e1f2e;"></div>
<i class="r" style="left:230px;top:660px;width:27px"></i>
<i class="r" style="left:259px;top:660px;width:27px"></i>
<i class="r" style="left:288px;top:660px;width:26px"></i>
<i class="r" style="left:316px;top:660px;width:27px"></i>
<i class="r" style="left:345px;top:660px;width:27px"></i>
<i class="r" style="left:374px;top:660px;width:27px"></i>
<i class="r" style="left:403px;top:660px;width:27px"></i>
<i class="r" style="left:432px;top:660px;width:26px"></i>
<i class="r" style="left:460px;top:660px;width:27px"></i>
<i class="r" style="left:489px;top:660px;width:27px"></i>
<i class="r" style="left:518px;top:660px;width:27px"></i>
<i class="r" style="left:547px;top:660px;width:26px"></i>
<i class="r" style="left:575px;top:660px;width:27px"></i>
<i class="r" style="left:604px;top:660px;width:27px"></i>
<i class="r" style="left:633px;top:660px;width:27px"></i>
<i class="r" style="left:662px;top:660px;width:27px"></i>
<i class="r" style="left:691px;top:660px;width:26px"></i>
<i class="r" style="left:719px;top:660px;width:27px"></i>
<i class="r" style="left:748px;top:660px;width:27px"></i>
<i class="r" style="left:777px;top:660px;width:27px"></i>
<i class="r" style="left:806px;top:660px;width:27px"></i>
<i class="r" style="left:835px;top:660px;width:26px"></i>
<i class="r" style="left:863px;top:660px;width:27px"></i>
<i class="r" style="left:892px;top:660px;width:27px"></i>
<i class="r" style="left:923px;top:660px;width:27px"></i>
<i class="r" style="left:952px;top:660px;width:27px"></i>
<i class="r" style="left:981px;top:660px;width:26px"></i>
<i class="r" style="left:1009px;top:660px;width:27px"></i>
<i class="r" style="left:1038px;top:660px;width:27px"></i>
<i class="r" style="left:1067px;top:660px;width:27px"></i>
<i class="r" style="left:1096px;top:660px;width:27px"></i>
<i class="r" style="left:1125px;top:660px;width:26px"></i>
<i class="r" style="left:1153px;top:660px;width:27px"></i>
<i class="r" style="left:1182px;top:660px;width:27px"></i>
<i class="r" style="left:1211px;top:660px;width:27px"></i>
<i class="r" style="left:1240px;top:660px;width:26px"></i>
<i class="r" style="left:1268px;top:660px;width:27px"></i>
<i class="r" style="left:1297px;top:660px;width:27px"></i>
<i class="r" style="left:1326px;top:660px;width:27px"></i>
<i class="r" style="left:1355px;top:660px;width:27px"></i>
<i class="r" style="left:1384px;top:660px;width:26px"></i>
<i class="r" style="left:1412px;top:660px;width:13px"></i>
<div class="t" style="left:110px;width:118px;text-align:center;top:669.00px;font-size:11.8px;color:#a2a4b6;font-weight:400;-webkit-text-stroke:0.35px #a2a4b6;letter-spacing:0.12px">*Admins</div>
<div class="a" style="left:110px;top:691px;width:118px;height:1px;background:#323357;"></div>
<div class="a" style="left:229px;top:691px;width:1196px;height:1px;background:#323357;"></div>
<div class="a" style="left:229px;top:692px;width:1196px;height:2px;background:#1e1f2e;"></div>
<div class="a" style="left:229px;top:694px;width:691px;height:31px;background:#243858;"></div>
<div class="a" style="left:922px;top:694px;width:503px;height:31px;background:#243858;"></div>
<div class="a" style="left:920px;top:692px;width:1px;height:35px;background:#1e1f2e;"></div>
<div class="a" style="left:921px;top:692px;width:1px;height:35px;background:#323357;"></div>
<div class="a" style="left:229px;top:725px;width:1196px;height:1px;background:#222436;"></div>
<div class="a" style="left:229px;top:726px;width:1196px;height:1px;background:#1e1f2e;"></div>
<i class="r" style="left:230px;top:695px;width:27px"></i>
<i class="r" style="left:259px;top:695px;width:27px"></i>
<i class="r" style="left:288px;top:695px;width:26px"></i>
<i class="r" style="left:316px;top:695px;width:27px"></i>
<i class="r" style="left:345px;top:695px;width:27px"></i>
<i class="r" style="left:374px;top:695px;width:27px"></i>
<i class="r" style="left:403px;top:695px;width:27px"></i>
<i class="r" style="left:432px;top:695px;width:26px"></i>
<i class="r" style="left:460px;top:695px;width:27px"></i>
<i class="r" style="left:489px;top:695px;width:27px"></i>
<i class="r" style="left:518px;top:695px;width:27px"></i>
<i class="r" style="left:547px;top:695px;width:26px"></i>
<i class="r" style="left:575px;top:695px;width:27px"></i>
<i class="r" style="left:604px;top:695px;width:27px"></i>
<i class="r" style="left:633px;top:695px;width:27px"></i>
<i class="r" style="left:662px;top:695px;width:27px"></i>
<i class="r" style="left:691px;top:695px;width:26px"></i>
<i class="r" style="left:719px;top:695px;width:27px"></i>
<i class="r" style="left:748px;top:695px;width:27px"></i>
<i class="r" style="left:777px;top:695px;width:27px"></i>
<i class="r" style="left:806px;top:695px;width:27px"></i>
<i class="r" style="left:835px;top:695px;width:26px"></i>
<i class="r" style="left:863px;top:695px;width:27px"></i>
<i class="r" style="left:892px;top:695px;width:27px"></i>
<i class="r" style="left:923px;top:695px;width:27px"></i>
<i class="r" style="left:952px;top:695px;width:27px"></i>
<i class="r" style="left:981px;top:695px;width:26px"></i>
<i class="r" style="left:1009px;top:695px;width:27px"></i>
<i class="r" style="left:1038px;top:695px;width:27px"></i>
<i class="r" style="left:1067px;top:695px;width:27px"></i>
<i class="r" style="left:1096px;top:695px;width:27px"></i>
<i class="r" style="left:1125px;top:695px;width:26px"></i>
<i class="r" style="left:1153px;top:695px;width:27px"></i>
<i class="r" style="left:1182px;top:695px;width:27px"></i>
<i class="r" style="left:1211px;top:695px;width:27px"></i>
<i class="r" style="left:1240px;top:695px;width:26px"></i>
<i class="r" style="left:1268px;top:695px;width:27px"></i>
<i class="r" style="left:1297px;top:695px;width:27px"></i>
<i class="r" style="left:1326px;top:695px;width:27px"></i>
<i class="r" style="left:1355px;top:695px;width:27px"></i>
<i class="r" style="left:1384px;top:695px;width:26px"></i>
<i class="r" style="left:1412px;top:695px;width:13px"></i>
<div class="t" style="left:110px;width:118px;text-align:center;top:704.00px;font-size:11.8px;color:#a2a4b6;font-weight:400;-webkit-text-stroke:0.35px #a2a4b6;letter-spacing:0.12px">Gold</div>
<div class="a" style="left:110px;top:727px;width:118px;height:1px;background:#323357;"></div>
<div class="a" style="left:229px;top:727px;width:1196px;height:1px;background:#323357;"></div>
<div class="a" style="left:229px;top:728px;width:1196px;height:2px;background:#1e1f2e;"></div>
<div class="a" style="left:229px;top:730px;width:691px;height:31px;background:#243858;"></div>
<div class="a" style="left:922px;top:730px;width:503px;height:31px;background:#243858;"></div>
<div class="a" style="left:920px;top:728px;width:1px;height:35px;background:#1e1f2e;"></div>
<div class="a" style="left:921px;top:728px;width:1px;height:35px;background:#323357;"></div>
<div class="a" style="left:229px;top:761px;width:1196px;height:1px;background:#222436;"></div>
<div class="a" style="left:229px;top:762px;width:1196px;height:1px;background:#1e1f2e;"></div>
<i class="r" style="left:230px;top:731px;width:27px"></i>
<i class="r" style="left:259px;top:731px;width:27px"></i>
<i class="r" style="left:288px;top:731px;width:26px"></i>
<i class="r" style="left:316px;top:731px;width:27px"></i>
<i class="r" style="left:345px;top:731px;width:27px"></i>
<i class="r" style="left:374px;top:731px;width:27px"></i>
<i class="r" style="left:403px;top:731px;width:27px"></i>
<i class="r" style="left:432px;top:731px;width:26px"></i>
<i class="r" style="left:460px;top:731px;width:27px"></i>
<i class="r" style="left:489px;top:731px;width:27px"></i>
<i class="r" style="left:518px;top:731px;width:27px"></i>
<i class="r" style="left:547px;top:731px;width:26px"></i>
<i class="r" style="left:575px;top:731px;width:27px"></i>
<i class="r" style="left:604px;top:731px;width:27px"></i>
<i class="r" style="left:633px;top:731px;width:27px"></i>
<i class="r" style="left:662px;top:731px;width:27px"></i>
<i class="r" style="left:691px;top:731px;width:26px"></i>
<i class="r" style="left:719px;top:731px;width:27px"></i>
<i class="r" style="left:748px;top:731px;width:27px"></i>
<i class="r" style="left:777px;top:731px;width:27px"></i>
<i class="r" style="left:806px;top:731px;width:27px"></i>
<i class="r" style="left:835px;top:731px;width:26px"></i>
<i class="r" style="left:863px;top:731px;width:27px"></i>
<i class="r" style="left:892px;top:731px;width:27px"></i>
<i class="r" style="left:923px;top:731px;width:27px"></i>
<i class="r" style="left:952px;top:731px;width:27px"></i>
<i class="r" style="left:981px;top:731px;width:26px"></i>
<i class="r" style="left:1009px;top:731px;width:27px"></i>
<i class="r" style="left:1038px;top:731px;width:27px"></i>
<i class="r" style="left:1067px;top:731px;width:27px"></i>
<i class="r" style="left:1096px;top:731px;width:27px"></i>
<i class="r" style="left:1125px;top:731px;width:26px"></i>
<i class="r" style="left:1153px;top:731px;width:27px"></i>
<i class="r" style="left:1182px;top:731px;width:27px"></i>
<i class="r" style="left:1211px;top:731px;width:27px"></i>
<i class="r" style="left:1240px;top:731px;width:26px"></i>
<i class="r" style="left:1268px;top:731px;width:27px"></i>
<i class="r" style="left:1297px;top:731px;width:27px"></i>
<i class="r" style="left:1326px;top:731px;width:27px"></i>
<i class="r" style="left:1355px;top:731px;width:27px"></i>
<i class="r" style="left:1384px;top:731px;width:26px"></i>
<i class="r" style="left:1412px;top:731px;width:13px"></i>
<div class="t" style="left:110px;width:118px;text-align:center;top:740.00px;font-size:11.8px;color:#a2a4b6;font-weight:400;-webkit-text-stroke:0.35px #a2a4b6;letter-spacing:0.12px">Platinum</div>
</div>
<div class="t" style="left:222.0px;width:108px;text-align:center;top:422.85px;font-size:11.5px;color:#a2a4b6;font-weight:400;letter-spacing:0.6px;-webkit-text-stroke:0.35px #a2a4b6;">Default</div>
<div class="t" style="left:222.0px;width:108px;text-align:center;top:780.00px;font-size:12px;color:#a2a4b6;font-weight:400;letter-spacing:0.1px;-webkit-text-stroke:0.35px #a2a4b6;">a</div>
<div class="t" style="left:222.5px;width:108px;text-align:center;top:222.80px;font-size:12px;color:#cfd0da;font-weight:700;letter-spacing:-0.62px;">PC GROUPS</div>
<div class="t" style="left:331.5px;width:118px;text-align:center;top:223.00px;font-size:12px;color:#cfd0da;font-weight:700;letter-spacing:-0.78px;">MEMBER GROUPS</div>
<div class="t" style="left:736.0px;width:120px;text-align:center;top:180.25px;font-size:11.5px;color:#cfd0da;font-weight:700;letter-spacing:0.1px;">SUNDAY</div>
<div class="t" style="left:1429.0px;width:120px;text-align:center;top:180.25px;font-size:11.5px;color:#cfd0da;font-weight:700;letter-spacing:0.1px;">MONDAY</div>
<div class="t" style="left:449.39px;width:30px;text-align:center;top:222.20px;font-size:12px;color:#cfd0da;font-weight:700;clip-path:inset(0 0.00px 0 0)">0</div>
<div class="t" style="left:478.19px;width:30px;text-align:center;top:222.20px;font-size:12px;color:#cfd0da;font-weight:700;clip-path:inset(0 0.00px 0 0)">1</div>
<div class="t" style="left:506.98px;width:30px;text-align:center;top:222.20px;font-size:12px;color:#cfd0da;font-weight:700;clip-path:inset(0 0.00px 0 0)">2</div>
<div class="t" style="left:535.76px;width:30px;text-align:center;top:222.20px;font-size:12px;color:#cfd0da;font-weight:700;clip-path:inset(0 0.00px 0 0)">3</div>
<div class="t" style="left:564.56px;width:30px;text-align:center;top:222.20px;font-size:12px;color:#cfd0da;font-weight:700;clip-path:inset(0 0.00px 0 0)">4</div>
<div class="t" style="left:593.35px;width:30px;text-align:center;top:222.20px;font-size:12px;color:#cfd0da;font-weight:700;clip-path:inset(0 0.00px 0 0)">5</div>
<div class="t" style="left:622.13px;width:30px;text-align:center;top:222.20px;font-size:12px;color:#cfd0da;font-weight:700;clip-path:inset(0 0.00px 0 0)">6</div>
<div class="t" style="left:650.92px;width:30px;text-align:center;top:222.20px;font-size:12px;color:#cfd0da;font-weight:700;clip-path:inset(0 0.00px 0 0)">7</div>
<div class="t" style="left:679.71px;width:30px;text-align:center;top:222.20px;font-size:12px;color:#cfd0da;font-weight:700;clip-path:inset(0 0.00px 0 0)">8</div>
<div class="t" style="left:708.50px;width:30px;text-align:center;top:222.20px;font-size:12px;color:#cfd0da;font-weight:700;clip-path:inset(0 0.00px 0 0)">9</div>
<div class="t" style="left:737.30px;width:30px;text-align:center;top:222.20px;font-size:12px;color:#cfd0da;font-weight:700;clip-path:inset(0 0.00px 0 0)">10</div>
<div class="t" style="left:766.09px;width:30px;text-align:center;top:222.20px;font-size:12px;color:#cfd0da;font-weight:700;clip-path:inset(0 0.00px 0 0)">11</div>
<div class="t" style="left:794.88px;width:30px;text-align:center;top:222.20px;font-size:12px;color:#cfd0da;font-weight:700;clip-path:inset(0 0.00px 0 0)">12</div>
<div class="t" style="left:823.66px;width:30px;text-align:center;top:222.20px;font-size:12px;color:#cfd0da;font-weight:700;clip-path:inset(0 0.00px 0 0)">13</div>
<div class="t" style="left:852.45px;width:30px;text-align:center;top:222.20px;font-size:12px;color:#cfd0da;font-weight:700;clip-path:inset(0 0.00px 0 0)">14</div>
<div class="t" style="left:881.24px;width:30px;text-align:center;top:222.20px;font-size:12px;color:#cfd0da;font-weight:700;clip-path:inset(0 0.00px 0 0)">15</div>
<div class="t" style="left:910.04px;width:30px;text-align:center;top:222.20px;font-size:12px;color:#cfd0da;font-weight:700;clip-path:inset(0 0.00px 0 0)">16</div>
<div class="t" style="left:938.83px;width:30px;text-align:center;top:222.20px;font-size:12px;color:#cfd0da;font-weight:700;clip-path:inset(0 0.00px 0 0)">17</div>
<div class="t" style="left:967.62px;width:30px;text-align:center;top:222.20px;font-size:12px;color:#cfd0da;font-weight:700;clip-path:inset(0 0.00px 0 0)">18</div>
<div class="t" style="left:996.40px;width:30px;text-align:center;top:222.20px;font-size:12px;color:#cfd0da;font-weight:700;clip-path:inset(0 0.00px 0 0)">19</div>
<div class="t" style="left:1025.20px;width:30px;text-align:center;top:222.20px;font-size:12px;color:#cfd0da;font-weight:700;clip-path:inset(0 0.00px 0 0)">20</div>
<div class="t" style="left:1053.99px;width:30px;text-align:center;top:222.20px;font-size:12px;color:#cfd0da;font-weight:700;clip-path:inset(0 0.00px 0 0)">21</div>
<div class="t" style="left:1082.78px;width:30px;text-align:center;top:222.20px;font-size:12px;color:#cfd0da;font-weight:700;clip-path:inset(0 0.00px 0 0)">22</div>
<div class="t" style="left:1111.59px;width:30px;text-align:center;top:222.20px;font-size:12px;color:#cfd0da;font-weight:700;clip-path:inset(0 0.00px 0 0)">23</div>
<div class="t" style="left:1142.39px;width:30px;text-align:center;top:222.20px;font-size:12px;color:#cfd0da;font-weight:700;clip-path:inset(0 0.00px 0 0)">0</div>
<div class="t" style="left:1171.18px;width:30px;text-align:center;top:222.20px;font-size:12px;color:#cfd0da;font-weight:700;clip-path:inset(0 0.00px 0 0)">1</div>
<div class="t" style="left:1199.97px;width:30px;text-align:center;top:222.20px;font-size:12px;color:#cfd0da;font-weight:700;clip-path:inset(0 0.00px 0 0)">2</div>
<div class="t" style="left:1228.76px;width:30px;text-align:center;top:222.20px;font-size:12px;color:#cfd0da;font-weight:700;clip-path:inset(0 0.00px 0 0)">3</div>
<div class="t" style="left:1257.56px;width:30px;text-align:center;top:222.20px;font-size:12px;color:#cfd0da;font-weight:700;clip-path:inset(0 0.00px 0 0)">4</div>
<div class="t" style="left:1286.35px;width:30px;text-align:center;top:222.20px;font-size:12px;color:#cfd0da;font-weight:700;clip-path:inset(0 0.00px 0 0)">5</div>
<div class="t" style="left:1315.13px;width:30px;text-align:center;top:222.20px;font-size:12px;color:#cfd0da;font-weight:700;clip-path:inset(0 0.00px 0 0)">6</div>
<div class="t" style="left:1343.92px;width:30px;text-align:center;top:222.20px;font-size:12px;color:#cfd0da;font-weight:700;clip-path:inset(0 0.00px 0 0)">7</div>
<div class="t" style="left:1372.72px;width:30px;text-align:center;top:222.20px;font-size:12px;color:#cfd0da;font-weight:700;clip-path:inset(0 0.00px 0 0)">8</div>
<div class="t" style="left:1401.51px;width:30px;text-align:center;top:222.20px;font-size:12px;color:#cfd0da;font-weight:700;clip-path:inset(0 0.00px 0 0)">9</div>
<div class="t" style="left:1430.30px;width:30px;text-align:center;top:222.20px;font-size:12px;color:#cfd0da;font-weight:700;clip-path:inset(0 0.00px 0 0)">10</div>
<div class="t" style="left:1459.09px;width:30px;text-align:center;top:222.20px;font-size:12px;color:#cfd0da;font-weight:700;clip-path:inset(0 0.00px 0 0)">11</div>
<div class="t" style="left:1487.88px;width:30px;text-align:center;top:222.20px;font-size:12px;color:#cfd0da;font-weight:700;clip-path:inset(0 0.00px 0 0)">12</div>
<div class="t" style="left:1516.66px;width:30px;text-align:center;top:222.20px;font-size:12px;color:#cfd0da;font-weight:700;clip-path:inset(0 0.00px 0 0)">13</div>
<div class="t" style="left:1545.45px;width:30px;text-align:center;top:222.20px;font-size:12px;color:#cfd0da;font-weight:700;clip-path:inset(0 0.00px 0 0)">14</div>
<div class="t" style="left:1574.24px;width:30px;text-align:center;top:222.20px;font-size:12px;color:#cfd0da;font-weight:700;clip-path:inset(0 0.00px 0 0)">15</div>
<div class="t" style="left:1603.03px;width:30px;text-align:center;top:222.20px;font-size:12px;color:#cfd0da;font-weight:700;clip-path:inset(0 0.00px 0 0)">16</div>
<div class="t" style="left:1631.83px;width:30px;text-align:center;top:222.20px;font-size:12px;color:#cfd0da;font-weight:700;clip-path:inset(0 15.83px 0 0)">17</div>
<div class="a" style="left:221px;top:901px;width:400px;height:9px;background:#282a45;border-radius:4.5px"></div>
<div class="a" style="left:1647px;top:166px;width:8px;height:289px;background:#282a45;border-radius:4px"></div>
<div class="a" style="left:1662px;top:172.5px;width:218px;height:64.5px;background:#222336;border-radius:6px;box-shadow:0 6px 18px rgba(0,0,0,0.22)"></div>
<div class="a" style="left:1662px;top:244px;width:218px;height:71px;background:#222336;border-radius:6px;box-shadow:0 6px 18px rgba(0,0,0,0.22)"></div>
<div class="t" style="left:1669.8px;top:183.25px;font-size:14.3px;color:#f2f3f8;font-weight:700;letter-spacing:0.7px;">Default</div>
<div class="t" style="left:1669.8px;top:217.25px;font-size:10.5px;color:#8a8c9c;font-weight:400;letter-spacing:0.2px;">Fixed</div>
<div class="t" style="left:1669.8px;top:254.45px;font-size:14.3px;color:#f2f3f8;font-weight:700;letter-spacing:0.2px;">VIP price</div>
<div class="t" style="left:1669.8px;top:291.05px;font-size:10.5px;color:#8a8c9c;font-weight:400;letter-spacing:0.2px;">Fixed</div>
<svg style="left:1855px;top:290.5px" width="9" height="12" viewBox="0 0 9 12"><rect x="0" y="1.2" width="9" height="1.6" fill="#e8493c"/><rect x="3" y="0" width="3" height="1.5" fill="#e8493c"/><path d="M0.8 3.4H8.2L7.6 11.5H1.4Z" fill="#e8493c"/></svg>
<div class="a" style="left:1853px;top:125px;width:35px;height:34px;background:#03a9f4;border-radius:3px"></div>
<div class="a" style="left:1865px;top:139.3px;width:11px;height:1.8px;background:#fff"></div>
<div class="a" style="left:1869.6px;top:135px;width:1.8px;height:11px;background:#fff"></div>
<div class="a" style="left:1845px;top:117.5px;width:52px;height:47.5px;border:3px solid #f04242;border-radius:6px"></div>
<svg style="left:0;top:0" width="1920" height="200" viewBox="0 0 1920 200"><path d="M1621 129H1828" stroke="#ff4242" stroke-width="3.4" stroke-linecap="round"/><path d="M1825 123.3L1842.3 129.3L1825 134.6L1827.3 129Z" fill="#f63f3f"/></svg>
<div class="a" style="left:1323px;top:14px;width:83px;height:31px;background:#24b04b;border-radius:3px"></div>
<div class="t" style="left:1323.0px;width:83px;text-align:center;top:24.40px;font-size:12.4px;color:#ffffff;font-weight:400;letter-spacing:0px;">245 days</div>
<svg style="left:0;top:0" width="1920" height="60" viewBox="0 0 1920 60">
<rect x="1432.1" y="33" width="6" height="5.7" fill="#c6c8d3"/><rect x="1439.7" y="25.8" width="6.3" height="12.9" fill="#c6c8d3"/><rect x="1447.2" y="28.9" width="6.7" height="9.8" fill="#c6c8d3"/>
<polygon points="1434.90,23.40 1435.93,25.98 1438.70,26.16 1436.56,27.94 1437.25,30.64 1434.90,29.15 1432.55,30.64 1433.24,27.94 1431.10,26.16 1433.87,25.98" fill="#c6c8d3"/><polygon points="1442.80,17.70 1443.83,20.28 1446.60,20.46 1444.46,22.24 1445.15,24.94 1442.80,23.45 1440.45,24.94 1441.14,22.24 1439.00,20.46 1441.77,20.28" fill="#c6c8d3"/><polygon points="1450.50,20.50 1451.53,23.08 1454.30,23.26 1452.16,25.04 1452.85,27.74 1450.50,26.25 1448.15,27.74 1448.84,25.04 1446.70,23.26 1449.47,23.08" fill="#c6c8d3"/>
</svg>
<svg style="left:0;top:0" width="1920" height="60" viewBox="0 0 1920 60">
<path d="M1465.6 18.8H1485.5V26.2Q1485.5 28 1483.5 28H1481.5Q1480 32.5 1476.6 33.3V35.3Q1477.8 35.6 1480.3 38H1470.7Q1473.2 35.6 1474.4 35.3V33.3Q1471 32.5 1469.5 28H1467.6Q1465.6 28 1465.6 26.2Z" fill="#c6c8d3"/>
<rect x="1468.1" y="21" width="1.8" height="5.3" fill="#23263a"/><rect x="1481.2" y="21" width="1.8" height="5.3" fill="#23263a"/>
<path d="M1469.9 18.8V20.2H1470.8V18.8ZM1480.3 18.8V20.2H1481.2V18.8Z" fill="#23263a" opacity="0"/>
</svg>
<svg style="left:0;top:0" width="1920" height="60" viewBox="0 0 1920 60">
<circle cx="1502.4" cy="33.9" r="2.1" fill="#c6c8d3"/>
<path d="M1500 27Q1508.3 27 1509 36.1" fill="none" stroke="#c6c8d3" stroke-width="2.3"/>
<path d="M1500 22.2Q1513.8 22.2 1514.5 36.1" fill="none" stroke="#c6c8d3" stroke-width="2.3"/>
</svg>
<svg style="left:1535px;top:19px" width="12" height="19" viewBox="0 0 12 19">
<path d="M3.2 19V10.6H0.3V7.2H3.2V4.6Q3.2 0 7.8 0Q9.7 0 11 0.3V3.3H9.2Q7.1 3.3 7.1 5.2V7.2H11L10.4 10.6H7.1V19Z" fill="#c6c8d3"/></svg>
<svg style="left:1563px;top:21.7px" width="20" height="14" viewBox="0 0 20 14">
<rect x="0" y="0" width="19.7" height="13.3" rx="3" fill="#c6c8d3"/><path d="M7.8 4.3L12.6 6.7L7.8 9.1Z" fill="#23263a"/></svg>
<svg style="left:1596px;top:18.6px" width="20" height="20" viewBox="0 0 20 20">
<g fill="none" stroke="#c6c8d3" stroke-width="1.5"><circle cx="10" cy="9.8" r="9"/><ellipse cx="10" cy="9.8" rx="4" ry="9"/><path d="M10 0.8V18.8M1 9.8H19M2.3 5.3H17.7M2.3 14.3H17.7"/></g></svg>
<svg style="left:1628.6px;top:19.5px" width="19" height="18" viewBox="0 0 19 18">
<rect x="0" y="0" width="18.7" height="17.8" rx="2" fill="#d3d4da"/>
<path d="M0 4H13.3Q14.6 4 14.6 5.3V7.3Q14.6 8.6 13.3 8.6H10Q8.7 8.6 8.7 9.9V11.7Q8.7 13.2 10 13.2H18.7" fill="none" stroke="#23263a" stroke-width="1.7"/>
<rect x="3.3" y="0" width="1.8" height="18" fill="#23263a"/></svg>
<svg style="left:0;top:0" width="1920" height="60" viewBox="0 0 1920 60">
<path d="M1666.5 21H1683.8L1690.6 29.2L1682.8 37.7H1666.7L1659.3 29.3Z" fill="#d2d3d8"/>
<path d="M1673.2 20.5L1666.3 29.4L1674 38.2" fill="none" stroke="#23263a" stroke-width="1.5"/>
<path d="M1670.9 25.1L1679.1 33.9" fill="none" stroke="#23263a" stroke-width="1.9" stroke-linecap="round"/>
<path d="M1678.8 24.5L1687.5 33 L1691 36" fill="none" stroke="#23263a" stroke-width="2" stroke-linecap="round"/>
</svg>
<svg style="left:1703px;top:20.2px" width="20" height="16" viewBox="0 0 20 16">
<rect x="0" y="0" width="19.6" height="15.9" rx="1.2" fill="#c6c8d3"/><path d="M1.8 3L9.8 8.3L17.8 3" fill="none" stroke="#23263a" stroke-width="1.3"/></svg>
<div class="a" style="left:1735px;top:17.3px;width:45px;height:24.4px;background:#17181f;border-radius:12.2px"></div>
<div class="a" style="left:1735.8px;top:19.7px;width:20.2px;height:20.6px;background:radial-gradient(circle at 42% 40%,#e6e7eb 0,#d9dadf 60%,#cfd0d6 100%);border-radius:50%;box-shadow:inset -3.5px -2.5px 0 #9c9ea7"></div>
<div class="a" style="left:1804px;top:10px;width:36px;height:36px;border-radius:50%;background:conic-gradient(from 10deg,#eef0f6,#a6e2f0 35deg,#eef2f6 60deg,#dccaf0 95deg,#f4eef4 120deg,#9edcf0 150deg,#eaf2f6 185deg,#f0d4ee 215deg,#a4e0ee 245deg,#f2f2f6 275deg,#c8ecf4 300deg,#ecf0f6 330deg,#eef0f6)"></div>
<svg style="left:1804px;top:10px" width="36" height="36" viewBox="0 0 36 36">
<text x="18" y="5.6" font-size="5" font-weight="700" text-anchor="middle" fill="#111" font-family="Liberation Sans" letter-spacing="-0.2">PLATINUM</text>
<path d="M8.3 8.3H15.4L18.1 15.2L20.8 8.3H27.8L20.6 17.8H15.6Z" fill="#000"/>
<rect x="16.6" y="16.5" width="2.9" height="3.6" fill="#000"/>
<circle cx="18.1" cy="26.3" r="7.3" fill="#000"/>
<polygon points="18.1,22.1 19.2,25.0 22.3,25.1 19.9,27.0 20.7,30.0 18.1,28.3 15.5,30.0 16.3,27.0 13.9,25.1 17.0,25.0" fill="#d4d4de"/>
</svg>
<svg style="left:1846.5px;top:25.5px" width="10" height="6" viewBox="0 0 10 6"><path d="M0.5 0.5L5 5L9.5 0.5" fill="none" stroke="#7a7fa0" stroke-width="1.1"/></svg>
<div class="a" style="left:1887px;top:625px;width:33px;height:140px;background:#1fa25b;border-style:solid;border-color:#fff #a6d8b8 #fff #fff;border-width:3px 1px 3px 2px;border-radius:4px 0 0 4px;box-shadow:0 -1px 0 #000,0 1px 0 #000"></div>
<div class="t" style="left:1905.5px;top:695px;font-size:18px;font-weight:700;color:#fff;transform:translate(-50%,-50%) rotate(90deg);left:1905.5px">Contact us</div>
<svg style="left:875px;top:99px" width="13" height="20" viewBox="0 0 13 20"><path d="M0.8 0.8V16.3L4.4 12.9L7.3 18.6L9.4 17.6L6.7 12.1H11.6Z" fill="#fff" stroke="#000" stroke-width="1.1" stroke-linejoin="round"/></svg>
</body></html>
